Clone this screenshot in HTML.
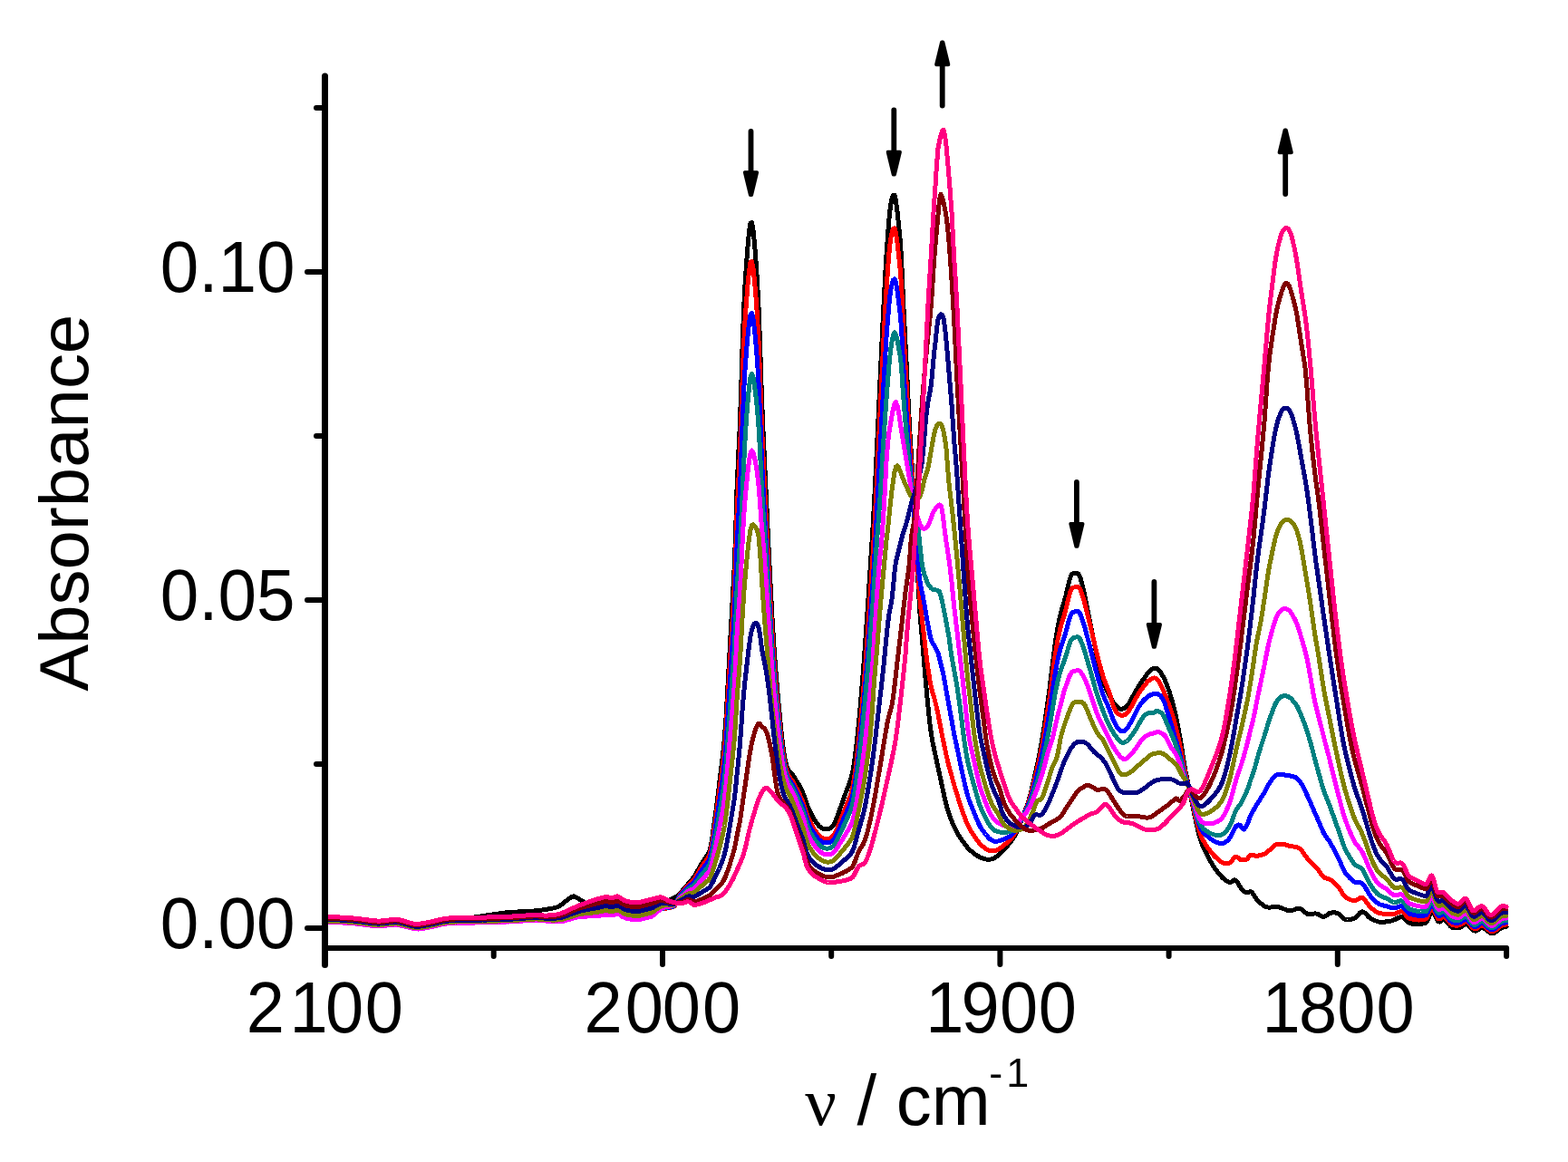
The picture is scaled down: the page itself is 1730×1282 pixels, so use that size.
<!DOCTYPE html>
<html><head><meta charset="utf-8"><title>IR spectra</title>
<style>
html,body{margin:0;padding:0;background:#fff;}
body{width:1730px;height:1282px;overflow:hidden;}
svg{display:block;}
text{font-family:"Liberation Sans",Arial,sans-serif;fill:#000;}
.c{fill:none;stroke-width:5;stroke-linejoin:round;stroke-linecap:round;}
.ax{stroke:#000;fill:none;stroke-linecap:round;}
</style></head><body>
<svg width="1730" height="1282" viewBox="0 0 1730 1282">
<rect width="1730" height="1282" fill="#fff"/>

<g shape-rendering="crispEdges"><path class="c" stroke="#000000" d="M358.5 1016.8 L360.0 1016.0 L361.5 1015.3 L363.0 1014.6 L364.5 1014.7 L366.0 1014.7 L367.5 1014.8 L369.0 1014.9 L370.5 1014.9 L372.0 1015.0 L373.5 1015.1 L375.0 1015.1 L376.5 1015.2 L378.0 1015.3 L379.5 1015.4 L381.0 1015.5 L382.5 1015.6 L384.0 1015.6 L385.5 1015.7 L387.0 1015.8 L388.5 1015.9 L390.0 1016.0 L391.5 1016.1 L393.0 1016.2 L394.5 1016.3 L396.0 1016.5 L397.5 1016.6 L399.0 1016.8 L400.5 1017.0 L402.0 1017.2 L403.5 1017.3 L405.0 1017.5 L406.5 1017.7 L408.0 1017.9 L409.5 1018.0 L411.0 1018.2 L412.5 1018.3 L414.0 1018.4 L415.5 1018.5 L417.0 1018.6 L418.5 1018.6 L420.0 1018.5 L421.5 1018.4 L423.0 1018.3 L424.5 1018.1 L426.0 1017.9 L427.5 1017.7 L429.0 1017.6 L430.5 1017.4 L432.0 1017.2 L433.5 1017.1 L435.0 1017.0 L436.5 1017.0 L438.0 1017.0 L439.5 1017.2 L441.0 1017.4 L442.5 1017.7 L444.0 1018.0 L445.5 1018.4 L447.0 1018.9 L448.5 1019.3 L450.0 1019.8 L451.5 1020.2 L453.0 1020.6 L454.5 1020.9 L456.0 1021.2 L457.5 1021.4 L459.0 1021.6 L460.5 1021.6 L462.0 1021.5 L463.5 1021.3 L465.0 1021.1 L466.5 1020.9 L468.0 1020.6 L469.5 1020.3 L471.0 1020.0 L472.5 1019.6 L474.0 1019.3 L475.5 1018.9 L477.0 1018.6 L478.5 1018.2 L480.0 1017.9 L481.5 1017.5 L483.0 1017.2 L484.5 1016.9 L486.0 1016.6 L487.5 1016.4 L489.0 1016.1 L490.5 1015.9 L492.0 1015.8 L493.5 1015.6 L495.0 1015.4 L496.5 1015.2 L498.0 1015.1 L499.5 1014.9 L501.0 1014.7 L502.5 1014.6 L504.0 1014.4 L505.5 1014.2 L507.0 1014.1 L508.5 1013.9 L510.0 1013.7 L511.5 1013.5 L513.0 1013.4 L514.5 1013.2 L516.0 1013.0 L517.5 1012.8 L519.0 1012.6 L520.5 1012.4 L522.0 1012.2 L523.5 1012.0 L525.0 1011.8 L526.5 1011.6 L528.0 1011.4 L529.5 1011.1 L531.0 1010.9 L532.5 1010.7 L534.0 1010.4 L535.5 1010.2 L537.0 1009.9 L538.5 1009.7 L540.0 1009.5 L541.5 1009.2 L543.0 1009.0 L544.5 1008.8 L546.0 1008.5 L547.5 1008.3 L549.0 1008.1 L550.5 1007.9 L552.0 1007.6 L553.5 1007.4 L555.0 1007.2 L556.5 1007.1 L558.0 1006.9 L559.5 1006.7 L561.0 1006.6 L562.5 1006.5 L564.0 1006.4 L565.5 1006.3 L567.0 1006.2 L568.5 1006.1 L570.0 1006.0 L571.5 1006.0 L573.0 1005.9 L574.5 1005.9 L576.0 1005.8 L577.5 1005.8 L579.0 1005.7 L580.5 1005.6 L582.0 1005.6 L583.5 1005.5 L585.0 1005.4 L586.5 1005.3 L588.0 1005.2 L589.5 1005.0 L591.0 1004.9 L592.5 1004.7 L594.0 1004.5 L595.5 1004.3 L597.0 1004.1 L598.5 1003.9 L600.0 1003.7 L601.5 1003.5 L603.0 1003.3 L604.5 1003.0 L606.0 1002.8 L607.5 1002.5 L609.0 1002.2 L610.5 1001.9 L612.0 1001.5 L613.5 1001.1 L615.0 1000.7 L616.5 1000.1 L618.0 999.1 L619.5 998.0 L621.0 996.7 L622.5 995.4 L624.0 994.2 L625.5 993.2 L627.0 992.2 L628.5 991.0 L630.0 990.0 L631.5 989.2 L633.0 988.9 L634.5 989.3 L636.0 990.2 L637.5 991.1 L639.0 992.0 L640.5 992.9 L642.0 993.8 L643.5 994.6 L645.0 995.6 L646.5 996.5 L648.0 997.4 L649.5 998.3 L651.0 998.9 L652.5 999.5 L654.0 999.9 L655.5 1000.2 L657.0 1000.3 L658.5 1000.4 L660.0 1000.5 L661.5 1000.5 L663.0 1000.4 L664.5 1000.4 L666.0 1000.4 L667.5 1000.4 L669.0 1000.4 L670.5 1000.5 L672.0 1000.7 L673.5 1000.8 L675.0 1000.9 L676.5 1001.1 L678.0 1001.2 L679.5 1001.3 L681.0 1001.5 L682.5 1001.6 L684.0 1001.7 L685.5 1001.8 L687.0 1002.0 L688.5 1002.1 L690.0 1002.2 L691.5 1002.3 L693.0 1002.5 L694.5 1002.6 L696.0 1002.7 L697.5 1002.8 L699.0 1002.9 L700.5 1003.0 L702.0 1003.1 L703.5 1003.2 L705.0 1003.2 L706.5 1003.2 L708.0 1003.1 L709.5 1003.1 L711.0 1002.9 L712.5 1002.8 L714.0 1002.6 L715.5 1002.4 L717.0 1002.1 L718.5 1001.8 L720.0 1001.5 L721.5 1001.1 L723.0 1000.6 L724.5 1000.2 L726.0 999.6 L727.5 999.1 L729.0 998.4 L730.5 997.7 L732.0 996.9 L733.5 996.1 L735.0 995.3 L736.5 994.5 L738.0 993.6 L739.5 992.7 L741.0 991.9 L742.5 991.0 L744.0 990.3 L745.5 989.5 L747.0 988.6 L748.5 987.5 L750.0 986.0 L751.5 984.3 L753.0 982.5 L754.5 980.8 L756.0 979.0 L757.5 977.2 L759.0 975.5 L760.5 973.7 L762.0 971.9 L763.5 970.1 L765.0 968.4 L766.5 966.4 L768.0 963.9 L769.5 961.1 L771.0 958.3 L772.5 955.5 L774.0 953.0 L775.5 950.7 L777.0 948.6 L778.5 946.4 L780.0 944.1 L781.5 941.6 L783.0 938.5 L784.5 932.1 L786.0 922.8 L787.5 912.2 L789.0 901.4 L790.5 890.2 L792.0 878.3 L793.5 865.9 L795.0 853.4 L796.5 841.5 L798.0 828.6 L799.5 812.7 L801.0 791.9 L802.5 765.5 L804.0 738.2 L805.5 710.9 L807.0 683.6 L808.5 656.4 L810.0 629.1 L811.5 591.5 L813.0 540.0 L814.5 506.8 L816.0 476.5 L817.5 436.5 L819.0 385.2 L820.5 343.1 L822.0 314.1 L823.5 291.5 L825.0 272.3 L826.5 256.1 L828.0 246.2 L829.5 245.5 L831.0 253.8 L832.5 268.6 L834.0 287.6 L835.5 310.0 L837.0 338.6 L838.5 377.6 L840.0 424.8 L841.5 464.4 L843.0 497.1 L844.5 529.4 L846.0 561.2 L847.5 592.8 L849.0 624.1 L850.5 654.0 L852.0 681.5 L853.5 706.3 L855.0 728.0 L856.5 747.2 L858.0 764.6 L859.5 781.1 L861.0 797.1 L862.5 811.9 L864.0 824.5 L865.5 834.2 L867.0 841.7 L868.5 846.9 L870.0 850.0 L871.5 851.8 L873.0 853.4 L874.5 855.0 L876.0 857.0 L877.5 859.4 L879.0 861.8 L880.5 864.3 L882.0 866.8 L883.5 869.6 L885.0 872.6 L886.5 876.2 L888.0 880.4 L889.5 884.8 L891.0 889.0 L892.5 892.7 L894.0 895.9 L895.5 898.9 L897.0 901.7 L898.5 904.2 L900.0 906.5 L901.5 908.7 L903.0 910.5 L904.5 912.1 L906.0 913.2 L907.5 914.0 L909.0 914.5 L910.5 914.7 L912.0 914.6 L913.5 914.4 L915.0 914.1 L916.5 913.4 L918.0 912.2 L919.5 910.4 L921.0 907.8 L922.5 904.2 L924.0 900.1 L925.5 895.9 L927.0 891.8 L928.5 887.6 L930.0 883.4 L931.5 879.2 L933.0 875.1 L934.5 871.0 L936.0 867.0 L937.5 863.0 L939.0 858.8 L940.5 852.7 L942.0 844.4 L943.5 833.9 L945.0 821.5 L946.5 807.5 L948.0 792.1 L949.5 775.4 L951.0 757.6 L952.5 738.6 L954.0 718.4 L955.5 697.1 L957.0 675.1 L958.5 652.5 L960.0 629.4 L961.5 605.9 L963.0 582.1 L964.5 555.8 L966.0 525.4 L967.5 493.9 L969.0 462.1 L970.5 430.3 L972.0 398.6 L973.5 367.1 L975.0 335.9 L976.5 307.1 L978.0 281.5 L979.5 259.9 L981.0 240.9 L982.5 226.8 L984.0 219.5 L985.5 215.4 L987.0 215.5 L988.5 221.8 L990.0 233.3 L991.5 248.0 L993.0 263.5 L994.5 283.3 L996.0 319.0 L997.5 350.6 L999.0 379.6 L1000.5 409.0 L1002.0 439.6 L1003.5 470.2 L1005.0 494.6 L1006.5 518.5 L1008.0 547.1 L1009.5 575.7 L1011.0 604.3 L1012.5 632.9 L1014.0 661.2 L1015.5 683.7 L1017.0 700.0 L1018.5 717.6 L1020.0 735.5 L1021.5 753.2 L1023.0 769.9 L1024.5 785.3 L1026.0 798.9 L1027.5 810.3 L1029.0 819.0 L1030.5 826.0 L1032.0 833.0 L1033.5 839.9 L1035.0 846.9 L1036.5 853.8 L1038.0 860.7 L1039.5 867.7 L1041.0 874.6 L1042.5 881.5 L1044.0 887.7 L1045.5 893.0 L1047.0 897.7 L1048.5 901.9 L1050.0 905.7 L1051.5 909.3 L1053.0 912.6 L1054.5 915.8 L1056.0 918.7 L1057.5 921.3 L1059.0 923.7 L1060.5 925.9 L1062.0 928.0 L1063.5 930.0 L1065.0 932.0 L1066.5 933.8 L1068.0 935.6 L1069.5 937.2 L1071.0 938.6 L1072.5 939.9 L1074.0 941.1 L1075.5 942.2 L1077.0 943.3 L1078.5 944.2 L1080.0 945.1 L1081.5 945.8 L1083.0 946.5 L1084.5 947.1 L1086.0 947.5 L1087.5 947.9 L1089.0 948.1 L1090.5 948.2 L1092.0 948.1 L1093.5 947.9 L1095.0 947.5 L1096.5 946.9 L1098.0 946.1 L1099.5 945.1 L1101.0 943.9 L1102.5 942.6 L1104.0 941.2 L1105.5 939.7 L1107.0 938.1 L1108.5 936.5 L1110.0 934.8 L1111.5 933.1 L1113.0 931.4 L1114.5 929.5 L1116.0 927.6 L1117.5 925.4 L1119.0 922.9 L1120.5 920.1 L1122.0 916.9 L1123.5 913.3 L1125.0 909.7 L1126.5 905.9 L1128.0 902.2 L1129.5 898.5 L1131.0 894.6 L1132.5 890.5 L1134.0 886.2 L1135.5 881.5 L1137.0 876.0 L1138.5 870.0 L1140.0 863.6 L1141.5 856.9 L1143.0 850.2 L1144.5 843.3 L1146.0 836.0 L1147.5 828.3 L1149.0 820.1 L1150.5 811.4 L1152.0 802.0 L1153.5 792.0 L1155.0 781.5 L1156.5 770.9 L1158.0 759.8 L1159.5 747.8 L1161.0 735.4 L1162.5 723.1 L1164.0 711.6 L1165.5 701.3 L1167.0 692.4 L1168.5 684.6 L1170.0 678.0 L1171.5 672.5 L1173.0 667.6 L1174.5 662.6 L1176.0 657.0 L1177.5 650.4 L1179.0 643.9 L1180.5 638.3 L1182.0 634.5 L1183.5 632.8 L1185.0 632.3 L1186.5 632.3 L1188.0 632.2 L1189.5 632.8 L1191.0 635.0 L1192.5 639.3 L1194.0 645.0 L1195.5 651.1 L1197.0 658.0 L1198.5 665.4 L1200.0 672.8 L1201.5 680.3 L1203.0 687.8 L1204.5 695.2 L1206.0 702.7 L1207.5 710.2 L1209.0 717.6 L1210.5 724.5 L1212.0 731.1 L1213.5 737.3 L1215.0 743.2 L1216.5 748.6 L1218.0 753.4 L1219.5 757.6 L1221.0 761.3 L1222.5 764.6 L1224.0 767.6 L1225.5 770.3 L1227.0 772.8 L1228.5 775.1 L1230.0 777.1 L1231.5 778.9 L1233.0 780.3 L1234.5 781.4 L1236.0 782.1 L1237.5 782.2 L1239.0 782.0 L1240.5 781.4 L1242.0 780.5 L1243.5 779.0 L1245.0 776.9 L1246.5 774.4 L1248.0 771.8 L1249.5 769.0 L1251.0 766.3 L1252.5 763.6 L1254.0 761.0 L1255.5 758.6 L1257.0 756.2 L1258.5 753.9 L1260.0 751.7 L1261.5 749.5 L1263.0 747.3 L1264.5 745.1 L1266.0 743.1 L1267.5 741.4 L1269.0 739.9 L1270.5 738.7 L1272.0 737.8 L1273.5 737.2 L1275.0 737.1 L1276.5 737.6 L1278.0 738.8 L1279.5 740.5 L1281.0 742.6 L1282.5 745.0 L1284.0 747.8 L1285.5 751.0 L1287.0 754.5 L1288.5 758.5 L1290.0 762.8 L1291.5 767.5 L1293.0 772.6 L1294.5 778.2 L1296.0 784.3 L1297.5 790.9 L1299.0 798.2 L1300.5 806.1 L1302.0 814.4 L1303.5 823.0 L1305.0 832.8 L1306.5 842.9 L1308.0 850.9 L1309.5 857.9 L1311.0 864.8 L1312.5 871.9 L1314.0 879.3 L1315.5 886.9 L1317.0 894.3 L1318.5 901.7 L1320.0 908.7 L1321.5 915.3 L1323.0 921.3 L1324.5 926.5 L1326.0 930.8 L1327.5 934.5 L1329.0 937.8 L1330.5 940.8 L1332.0 943.7 L1333.5 946.5 L1335.0 949.2 L1336.5 951.8 L1338.0 954.3 L1339.5 956.6 L1341.0 958.7 L1342.5 960.8 L1344.0 962.7 L1345.5 964.6 L1347.0 966.3 L1348.5 968.0 L1350.0 969.5 L1351.5 970.7 L1353.0 971.7 L1354.5 972.6 L1356.0 973.3 L1357.5 973.6 L1359.0 972.8 L1360.5 971.6 L1362.0 970.7 L1363.5 971.1 L1365.0 972.8 L1366.5 975.4 L1368.0 978.1 L1369.5 980.4 L1371.0 982.0 L1372.5 983.2 L1374.0 984.3 L1375.5 984.9 L1377.0 984.6 L1378.5 983.9 L1380.0 983.7 L1381.5 984.8 L1383.0 986.9 L1384.5 989.3 L1386.0 991.7 L1387.5 993.5 L1389.0 994.9 L1390.5 996.2 L1392.0 997.5 L1393.5 998.6 L1395.0 999.6 L1396.5 1000.3 L1398.0 1000.9 L1399.5 1001.1 L1401.0 1001.1 L1402.5 1000.9 L1404.0 1000.6 L1405.5 1000.3 L1407.0 1000.1 L1408.5 1000.2 L1410.0 1000.5 L1411.5 1000.9 L1413.0 1001.4 L1414.5 1002.0 L1416.0 1002.6 L1417.5 1003.2 L1419.0 1003.8 L1420.5 1004.3 L1422.0 1004.6 L1423.5 1004.8 L1425.0 1004.6 L1426.5 1004.2 L1428.0 1003.7 L1429.5 1003.1 L1431.0 1002.6 L1432.5 1002.4 L1434.0 1002.4 L1435.5 1002.8 L1437.0 1003.9 L1438.5 1005.3 L1440.0 1006.7 L1441.5 1007.8 L1443.0 1008.5 L1444.5 1008.7 L1446.0 1008.6 L1447.5 1008.4 L1449.0 1008.1 L1450.5 1007.9 L1452.0 1008.0 L1453.5 1008.3 L1455.0 1009.0 L1456.5 1009.9 L1458.0 1010.7 L1459.5 1011.3 L1461.0 1011.3 L1462.5 1010.7 L1464.0 1009.6 L1465.5 1008.4 L1467.0 1007.5 L1468.5 1007.2 L1470.0 1006.9 L1471.5 1006.9 L1473.0 1006.9 L1474.5 1007.2 L1476.0 1007.6 L1477.5 1008.2 L1479.0 1009.7 L1480.5 1011.4 L1482.0 1013.1 L1483.5 1014.2 L1485.0 1014.6 L1486.5 1014.7 L1488.0 1014.7 L1489.5 1014.5 L1491.0 1014.1 L1492.5 1013.7 L1494.0 1013.1 L1495.5 1012.4 L1497.0 1011.1 L1498.5 1009.3 L1500.0 1007.5 L1501.5 1006.2 L1503.0 1005.7 L1504.5 1006.2 L1506.0 1007.4 L1507.5 1008.9 L1509.0 1010.5 L1510.5 1012.0 L1512.0 1013.2 L1513.5 1013.9 L1515.0 1014.7 L1516.5 1015.4 L1518.0 1016.0 L1519.5 1016.6 L1521.0 1017.0 L1522.5 1017.2 L1524.0 1017.3 L1525.5 1017.3 L1527.0 1017.2 L1528.5 1017.0 L1530.0 1016.8 L1531.5 1016.6 L1533.0 1016.4 L1534.5 1016.1 L1536.0 1015.8 L1537.5 1015.2 L1539.0 1014.5 L1540.5 1013.7 L1542.0 1013.0 L1543.5 1012.3 L1545.0 1011.9 L1546.5 1011.7 L1548.0 1012.2 L1549.5 1013.4 L1551.0 1014.9 L1552.5 1016.5 L1554.0 1017.8 L1555.5 1018.5 L1557.0 1018.9 L1558.5 1019.2 L1560.0 1019.4 L1561.5 1019.6 L1563.0 1019.7 L1564.5 1019.8 L1566.0 1019.7 L1567.5 1019.5 L1569.0 1019.3 L1570.5 1018.9 L1572.0 1018.6 L1573.5 1017.8 L1575.0 1015.4 L1576.5 1011.9 L1578.0 1008.6 L1579.5 1006.3 L1581.0 1006.3 L1582.5 1008.3 L1584.0 1011.5 L1585.5 1014.8 L1587.0 1016.9 L1588.5 1017.1 L1590.0 1016.3 L1591.5 1015.1 L1593.0 1014.5 L1594.5 1015.1 L1596.0 1016.5 L1597.5 1018.3 L1599.0 1020.3 L1600.5 1022.0 L1602.0 1023.2 L1603.5 1023.6 L1605.0 1023.8 L1606.5 1023.8 L1608.0 1023.7 L1609.5 1023.5 L1611.0 1023.1 L1612.5 1022.3 L1614.0 1021.4 L1615.5 1020.5 L1617.0 1019.8 L1618.5 1019.8 L1620.0 1020.6 L1621.5 1022.0 L1623.0 1023.7 L1624.5 1025.3 L1626.0 1026.6 L1627.5 1027.2 L1629.0 1026.9 L1630.5 1026.0 L1632.0 1024.8 L1633.5 1023.8 L1635.0 1023.4 L1636.5 1023.7 L1638.0 1024.5 L1639.5 1025.5 L1641.0 1026.8 L1642.5 1028.0 L1644.0 1029.0 L1645.5 1029.7 L1647.0 1029.8 L1648.5 1029.4 L1650.0 1028.5 L1651.5 1027.4 L1653.0 1026.3 L1654.5 1025.1 L1656.0 1024.1 L1657.5 1023.4 L1659.0 1023.0 L1660.5 1022.5 L1662.0 1022.3"/>
<path class="c" stroke="#ff0000" d="M358.5 1017.0 L360.0 1017.0 L361.5 1017.1 L363.0 1017.1 L364.5 1017.2 L366.0 1017.2 L367.5 1017.2 L369.0 1017.3 L370.5 1017.3 L372.0 1017.4 L373.5 1017.4 L375.0 1017.5 L376.5 1017.6 L378.0 1017.7 L379.5 1017.8 L381.0 1017.9 L382.5 1018.0 L384.0 1018.1 L385.5 1018.2 L387.0 1018.3 L388.5 1018.4 L390.0 1018.5 L391.5 1018.7 L393.0 1018.8 L394.5 1019.0 L396.0 1019.2 L397.5 1019.3 L399.0 1019.5 L400.5 1019.7 L402.0 1019.9 L403.5 1020.1 L405.0 1020.3 L406.5 1020.5 L408.0 1020.7 L409.5 1020.9 L411.0 1021.0 L412.5 1021.2 L414.0 1021.4 L415.5 1021.4 L417.0 1021.5 L418.5 1021.4 L420.0 1021.3 L421.5 1021.2 L423.0 1021.1 L424.5 1020.9 L426.0 1020.8 L427.5 1020.6 L429.0 1020.5 L430.5 1020.3 L432.0 1020.2 L433.5 1020.1 L435.0 1020.0 L436.5 1019.9 L438.0 1020.0 L439.5 1020.2 L441.0 1020.5 L442.5 1020.8 L444.0 1021.2 L445.5 1021.5 L447.0 1021.9 L448.5 1022.3 L450.0 1022.7 L451.5 1023.0 L453.0 1023.4 L454.5 1023.7 L456.0 1024.0 L457.5 1024.3 L459.0 1024.5 L460.5 1024.7 L462.0 1024.7 L463.5 1024.5 L465.0 1024.3 L466.5 1024.1 L468.0 1023.8 L469.5 1023.6 L471.0 1023.3 L472.5 1023.0 L474.0 1022.7 L475.5 1022.4 L477.0 1022.0 L478.5 1021.7 L480.0 1021.3 L481.5 1021.0 L483.0 1020.6 L484.5 1020.3 L486.0 1019.9 L487.5 1019.6 L489.0 1019.3 L490.5 1019.0 L492.0 1018.8 L493.5 1018.7 L495.0 1018.6 L496.5 1018.5 L498.0 1018.3 L499.5 1018.2 L501.0 1018.1 L502.5 1018.0 L504.0 1018.0 L505.5 1017.9 L507.0 1017.9 L508.5 1017.8 L510.0 1017.8 L511.5 1017.8 L513.0 1017.8 L514.5 1017.8 L516.0 1017.7 L517.5 1017.7 L519.0 1017.7 L520.5 1017.7 L522.0 1017.7 L523.5 1017.7 L525.0 1017.6 L526.5 1017.6 L528.0 1017.6 L529.5 1017.6 L531.0 1017.6 L532.5 1017.5 L534.0 1017.5 L535.5 1017.5 L537.0 1017.5 L538.5 1017.4 L540.0 1017.4 L541.5 1017.3 L543.0 1017.3 L544.5 1017.2 L546.0 1017.2 L547.5 1017.1 L549.0 1017.1 L550.5 1017.0 L552.0 1017.0 L553.5 1016.9 L555.0 1016.9 L556.5 1016.8 L558.0 1016.8 L559.5 1016.7 L561.0 1016.7 L562.5 1016.6 L564.0 1016.5 L565.5 1016.5 L567.0 1016.4 L568.5 1016.3 L570.0 1016.2 L571.5 1016.1 L573.0 1016.0 L574.5 1015.9 L576.0 1015.8 L577.5 1015.7 L579.0 1015.6 L580.5 1015.5 L582.0 1015.4 L583.5 1015.3 L585.0 1015.2 L586.5 1015.1 L588.0 1015.0 L589.5 1015.0 L591.0 1015.0 L592.5 1015.0 L594.0 1015.1 L595.5 1015.2 L597.0 1015.3 L598.5 1015.4 L600.0 1015.6 L601.5 1015.7 L603.0 1015.8 L604.5 1015.9 L606.0 1016.0 L607.5 1016.1 L609.0 1016.2 L610.5 1016.3 L612.0 1016.3 L613.5 1016.4 L615.0 1016.4 L616.5 1016.3 L618.0 1016.3 L619.5 1016.1 L621.0 1015.8 L622.5 1015.5 L624.0 1015.1 L625.5 1014.6 L627.0 1014.2 L628.5 1013.8 L630.0 1013.3 L631.5 1012.9 L633.0 1012.4 L634.5 1012.0 L636.0 1011.6 L637.5 1011.1 L639.0 1010.8 L640.5 1010.7 L642.0 1010.6 L643.5 1010.5 L645.0 1010.4 L646.5 1010.3 L648.0 1010.2 L649.5 1010.1 L651.0 1010.0 L652.5 1009.9 L654.0 1009.9 L655.5 1010.0 L657.0 1010.0 L658.5 1009.8 L660.0 1009.5 L661.5 1009.2 L663.0 1008.9 L664.5 1008.6 L666.0 1008.4 L667.5 1008.1 L669.0 1008.0 L670.5 1008.1 L672.0 1008.4 L673.5 1008.7 L675.0 1008.9 L676.5 1008.8 L678.0 1008.3 L679.5 1007.6 L681.0 1007.3 L682.5 1007.5 L684.0 1008.3 L685.5 1009.4 L687.0 1010.5 L688.5 1011.2 L690.0 1011.8 L691.5 1012.2 L693.0 1012.6 L694.5 1012.8 L696.0 1013.1 L697.5 1013.3 L699.0 1013.5 L700.5 1013.6 L702.0 1013.7 L703.5 1013.8 L705.0 1013.7 L706.5 1013.3 L708.0 1013.0 L709.5 1012.6 L711.0 1012.2 L712.5 1011.9 L714.0 1011.5 L715.5 1011.1 L717.0 1010.8 L718.5 1010.4 L720.0 1009.5 L721.5 1008.4 L723.0 1007.1 L724.5 1005.9 L726.0 1004.7 L727.5 1003.6 L729.0 1002.7 L730.5 1002.3 L732.0 1002.2 L733.5 1002.1 L735.0 1002.1 L736.5 1002.0 L738.0 1001.8 L739.5 1001.5 L741.0 1001.0 L742.5 1000.4 L744.0 999.7 L745.5 997.7 L747.0 994.1 L748.5 990.2 L750.0 987.2 L751.5 985.5 L753.0 983.9 L754.5 982.2 L756.0 980.5 L757.5 978.9 L759.0 977.2 L760.5 975.6 L762.0 974.1 L763.5 972.5 L765.0 970.9 L766.5 969.1 L768.0 966.8 L769.5 964.2 L771.0 961.5 L772.5 958.9 L774.0 956.5 L775.5 954.3 L777.0 952.2 L778.5 950.1 L780.0 948.0 L781.5 945.6 L783.0 942.6 L784.5 936.6 L786.0 927.9 L787.5 917.9 L789.0 907.9 L790.5 897.4 L792.0 886.3 L793.5 874.6 L795.0 862.9 L796.5 851.7 L798.0 839.5 L799.5 824.5 L801.0 805.0 L802.5 780.1 L804.0 754.4 L805.5 728.7 L807.0 703.0 L808.5 677.3 L810.0 651.6 L811.5 616.2 L813.0 567.8 L814.5 536.4 L816.0 507.9 L817.5 470.1 L819.0 421.8 L820.5 382.2 L822.0 354.7 L823.5 333.1 L825.0 314.6 L826.5 299.1 L828.0 289.4 L829.5 288.4 L831.0 296.0 L832.5 309.8 L834.0 327.6 L835.5 348.7 L837.0 375.6 L838.5 412.3 L840.0 456.7 L841.5 493.9 L843.0 524.7 L844.5 555.2 L846.0 585.2 L847.5 615.0 L849.0 644.5 L850.5 672.6 L852.0 698.4 L853.5 721.7 L855.0 742.0 L856.5 760.0 L858.0 776.2 L859.5 791.5 L861.0 806.3 L862.5 819.9 L864.0 831.5 L865.5 840.5 L867.0 847.4 L868.5 852.5 L870.0 855.5 L871.5 857.6 L873.0 859.7 L874.5 861.8 L876.0 864.3 L877.5 867.2 L879.0 870.0 L880.5 872.9 L882.0 876.0 L883.5 879.2 L885.0 882.6 L886.5 886.5 L888.0 891.2 L889.5 896.0 L891.0 900.2 L892.5 903.9 L894.0 907.1 L895.5 910.1 L897.0 912.7 L898.5 915.1 L900.0 917.3 L901.5 919.3 L903.0 921.1 L904.5 922.5 L906.0 923.7 L907.5 924.5 L909.0 925.1 L910.5 925.4 L912.0 925.5 L913.5 925.4 L915.0 925.1 L916.5 924.5 L918.0 923.5 L919.5 922.0 L921.0 919.7 L922.5 916.6 L924.0 913.1 L925.5 909.5 L927.0 905.8 L928.5 902.1 L930.0 898.4 L931.5 894.6 L933.0 890.8 L934.5 887.1 L936.0 883.3 L937.5 879.4 L939.0 875.4 L940.5 869.7 L942.0 861.8 L943.5 851.9 L945.0 840.3 L946.5 827.3 L948.0 813.0 L949.5 797.7 L951.0 781.3 L952.5 763.6 L954.0 744.8 L955.5 724.6 L957.0 703.6 L958.5 681.9 L960.0 659.6 L961.5 636.8 L963.0 613.5 L964.5 587.8 L966.0 558.3 L967.5 527.7 L969.0 496.7 L970.5 465.7 L972.0 434.5 L973.5 403.6 L975.0 373.0 L976.5 344.6 L978.0 319.3 L979.5 297.8 L981.0 278.8 L982.5 264.4 L984.0 256.8 L985.5 252.2 L987.0 251.8 L988.5 257.3 L990.0 267.8 L991.5 281.2 L993.0 295.4 L994.5 313.8 L996.0 346.9 L997.5 376.2 L999.0 402.8 L1000.5 429.2 L1002.0 456.9 L1003.5 484.6 L1005.0 506.5 L1006.5 527.6 L1008.0 552.7 L1009.5 577.2 L1011.0 601.8 L1012.5 626.4 L1014.0 649.9 L1015.5 667.6 L1017.0 680.0 L1018.5 693.0 L1020.0 706.1 L1021.5 718.9 L1023.0 730.8 L1024.5 741.4 L1026.0 751.0 L1027.5 758.7 L1029.0 764.3 L1030.5 769.1 L1032.0 774.9 L1033.5 781.0 L1035.0 787.9 L1036.5 795.9 L1038.0 803.7 L1039.5 811.3 L1041.0 818.6 L1042.5 825.8 L1044.0 832.8 L1045.5 839.2 L1047.0 845.2 L1048.5 850.8 L1050.0 856.1 L1051.5 861.8 L1053.0 867.1 L1054.5 871.9 L1056.0 876.8 L1057.5 881.7 L1059.0 886.4 L1060.5 890.8 L1062.0 895.2 L1063.5 899.5 L1065.0 903.6 L1066.5 907.4 L1068.0 910.8 L1069.5 913.7 L1071.0 916.3 L1072.5 918.7 L1074.0 921.1 L1075.5 923.3 L1077.0 925.5 L1078.5 927.6 L1080.0 929.6 L1081.5 931.3 L1083.0 932.7 L1084.5 934.0 L1086.0 935.2 L1087.5 936.2 L1089.0 937.2 L1090.5 937.9 L1092.0 938.5 L1093.5 938.9 L1095.0 939.0 L1096.5 938.9 L1098.0 938.5 L1099.5 938.0 L1101.0 937.2 L1102.5 936.3 L1104.0 935.3 L1105.5 934.2 L1107.0 933.1 L1108.5 931.9 L1110.0 930.6 L1111.5 929.3 L1113.0 928.0 L1114.5 926.5 L1116.0 924.8 L1117.5 922.9 L1119.0 920.7 L1120.5 918.2 L1122.0 915.3 L1123.5 912.2 L1125.0 908.9 L1126.5 905.5 L1128.0 902.2 L1129.5 898.8 L1131.0 895.2 L1132.5 891.5 L1134.0 887.5 L1135.5 883.2 L1137.0 878.2 L1138.5 872.6 L1140.0 866.6 L1141.5 860.5 L1143.0 854.3 L1144.5 847.8 L1146.0 841.1 L1147.5 833.9 L1149.0 826.4 L1150.5 818.2 L1152.0 809.4 L1153.5 800.1 L1155.0 790.3 L1156.5 780.4 L1158.0 770.0 L1159.5 758.7 L1161.0 747.0 L1162.5 735.4 L1164.0 724.5 L1165.5 714.9 L1167.0 706.3 L1168.5 699.0 L1170.0 692.6 L1171.5 687.3 L1173.0 682.5 L1174.5 677.7 L1176.0 672.3 L1177.5 665.9 L1179.0 659.6 L1180.5 654.2 L1182.0 650.4 L1183.5 648.6 L1185.0 648.0 L1186.5 647.7 L1188.0 647.3 L1189.5 647.3 L1191.0 648.6 L1192.5 651.8 L1194.0 656.2 L1195.5 661.0 L1197.0 666.4 L1198.5 672.4 L1200.0 678.4 L1201.5 684.5 L1203.0 690.6 L1204.5 696.9 L1206.0 703.2 L1207.5 709.7 L1209.0 716.1 L1210.5 722.3 L1212.0 728.2 L1213.5 733.9 L1215.0 739.4 L1216.5 744.5 L1218.0 749.2 L1219.5 753.2 L1221.0 756.9 L1222.5 760.2 L1224.0 764.3 L1225.5 769.5 L1227.0 774.9 L1228.5 779.6 L1230.0 782.8 L1231.5 785.0 L1233.0 786.8 L1234.5 788.1 L1236.0 789.0 L1237.5 789.3 L1239.0 789.2 L1240.5 788.8 L1242.0 788.0 L1243.5 786.7 L1245.0 784.8 L1246.5 782.5 L1248.0 780.0 L1249.5 777.3 L1251.0 774.5 L1252.5 771.7 L1254.0 768.9 L1255.5 766.4 L1257.0 764.1 L1258.5 762.0 L1260.0 759.9 L1261.5 757.9 L1263.0 756.0 L1264.5 754.1 L1266.0 752.4 L1267.5 750.9 L1269.0 749.8 L1270.5 748.9 L1272.0 748.3 L1273.5 747.9 L1275.0 748.2 L1276.5 749.3 L1278.0 751.1 L1279.5 753.6 L1281.0 756.4 L1282.5 759.5 L1284.0 762.9 L1285.5 766.5 L1287.0 770.3 L1288.5 774.3 L1290.0 778.5 L1291.5 782.7 L1293.0 787.1 L1294.5 791.8 L1296.0 797.0 L1297.5 802.8 L1299.0 809.1 L1300.5 815.8 L1302.0 823.0 L1303.5 830.4 L1305.0 838.9 L1306.5 847.5 L1308.0 854.1 L1309.5 859.9 L1311.0 865.7 L1312.5 871.8 L1314.0 878.4 L1315.5 885.1 L1317.0 891.8 L1318.5 898.5 L1320.0 904.8 L1321.5 910.7 L1323.0 916.0 L1324.5 920.5 L1326.0 924.1 L1327.5 927.2 L1329.0 929.7 L1330.5 932.1 L1332.0 934.3 L1333.5 936.4 L1335.0 938.5 L1336.5 940.4 L1338.0 942.3 L1339.5 944.0 L1341.0 945.5 L1342.5 946.9 L1344.0 948.3 L1345.5 949.5 L1347.0 950.6 L1348.5 951.5 L1350.0 952.3 L1351.5 952.7 L1353.0 952.8 L1354.5 952.7 L1356.0 952.4 L1357.5 951.7 L1359.0 950.0 L1360.5 947.9 L1362.0 946.1 L1363.5 945.2 L1365.0 945.6 L1366.5 946.7 L1368.0 947.9 L1369.5 948.8 L1371.0 949.0 L1372.5 948.9 L1374.0 948.7 L1375.5 948.1 L1377.0 946.6 L1378.5 944.8 L1380.0 943.4 L1381.5 943.2 L1383.0 943.6 L1384.5 944.0 L1386.0 944.3 L1387.5 944.2 L1389.0 943.9 L1390.5 943.6 L1392.0 943.3 L1393.5 942.8 L1395.0 942.2 L1396.5 941.3 L1398.0 940.2 L1399.5 938.9 L1401.0 937.6 L1402.5 936.3 L1404.0 934.9 L1405.5 933.5 L1407.0 932.4 L1408.5 931.6 L1410.0 931.2 L1411.5 931.0 L1413.0 931.0 L1414.5 931.1 L1416.0 931.4 L1417.5 931.8 L1419.0 932.2 L1420.5 932.7 L1422.0 933.1 L1423.5 933.5 L1425.0 933.8 L1426.5 934.0 L1428.0 934.1 L1429.5 934.3 L1431.0 934.7 L1432.5 935.3 L1434.0 936.3 L1435.5 937.7 L1437.0 939.5 L1438.5 941.7 L1440.0 943.8 L1441.5 945.9 L1443.0 947.8 L1444.5 949.4 L1446.0 950.8 L1447.5 952.3 L1449.0 953.8 L1450.5 955.4 L1452.0 956.9 L1453.5 958.6 L1455.0 960.6 L1456.5 962.7 L1458.0 964.8 L1459.5 966.6 L1461.0 968.0 L1462.5 968.8 L1464.0 969.1 L1465.5 969.4 L1467.0 970.0 L1468.5 971.0 L1470.0 972.2 L1471.5 973.4 L1473.0 974.7 L1474.5 976.2 L1476.0 977.7 L1477.5 979.5 L1479.0 981.9 L1480.5 984.5 L1482.0 987.0 L1483.5 988.9 L1485.0 990.1 L1486.5 991.1 L1488.0 991.9 L1489.5 992.5 L1491.0 993.0 L1492.5 993.3 L1494.0 993.6 L1495.5 993.6 L1497.0 993.0 L1498.5 992.0 L1500.0 991.0 L1501.5 990.4 L1503.0 990.5 L1504.5 991.6 L1506.0 993.3 L1507.5 995.3 L1509.0 997.3 L1510.5 999.3 L1512.0 1001.0 L1513.5 1002.3 L1515.0 1003.5 L1516.5 1004.6 L1518.0 1005.6 L1519.5 1006.5 L1521.0 1007.2 L1522.5 1007.6 L1524.0 1007.9 L1525.5 1008.1 L1527.0 1008.2 L1528.5 1008.3 L1530.0 1008.4 L1531.5 1008.5 L1533.0 1008.6 L1534.5 1008.8 L1536.0 1008.8 L1537.5 1008.6 L1539.0 1008.2 L1540.5 1007.6 L1542.0 1006.9 L1543.5 1006.3 L1545.0 1005.9 L1546.5 1005.8 L1548.0 1006.4 L1549.5 1007.7 L1551.0 1009.4 L1552.5 1011.2 L1554.0 1012.6 L1555.5 1013.4 L1557.0 1013.8 L1558.5 1014.1 L1560.0 1014.4 L1561.5 1014.7 L1563.0 1014.9 L1564.5 1015.0 L1566.0 1015.0 L1567.5 1014.9 L1569.0 1014.8 L1570.5 1014.5 L1572.0 1014.3 L1573.5 1013.7 L1575.0 1011.2 L1576.5 1007.8 L1578.0 1004.4 L1579.5 1002.3 L1581.0 1002.4 L1582.5 1004.8 L1584.0 1008.3 L1585.5 1011.6 L1587.0 1013.7 L1588.5 1013.9 L1590.0 1013.1 L1591.5 1012.0 L1593.0 1011.6 L1594.5 1012.2 L1596.0 1013.7 L1597.5 1015.5 L1599.0 1017.4 L1600.5 1019.1 L1602.0 1020.2 L1603.5 1020.7 L1605.0 1021.0 L1606.5 1021.1 L1608.0 1021.1 L1609.5 1020.9 L1611.0 1020.4 L1612.5 1019.5 L1614.0 1018.5 L1615.5 1017.6 L1617.0 1016.9 L1618.5 1017.0 L1620.0 1018.0 L1621.5 1019.6 L1623.0 1021.5 L1624.5 1023.2 L1626.0 1024.4 L1627.5 1024.9 L1629.0 1024.5 L1630.5 1023.6 L1632.0 1022.4 L1633.5 1021.4 L1635.0 1021.0 L1636.5 1021.4 L1638.0 1022.2 L1639.5 1023.4 L1641.0 1024.7 L1642.5 1026.0 L1644.0 1027.1 L1645.5 1027.7 L1647.0 1027.7 L1648.5 1027.2 L1650.0 1026.3 L1651.5 1025.2 L1653.0 1023.9 L1654.5 1022.8 L1656.0 1021.8 L1657.5 1021.1 L1659.0 1020.6 L1660.5 1020.3 L1662.0 1020.1"/>
<path class="c" stroke="#0000ff" d="M358.5 1017.2 L360.0 1017.2 L361.5 1017.3 L363.0 1017.3 L364.5 1017.4 L366.0 1017.4 L367.5 1017.4 L369.0 1017.5 L370.5 1017.5 L372.0 1017.6 L373.5 1017.6 L375.0 1017.7 L376.5 1017.8 L378.0 1017.9 L379.5 1018.0 L381.0 1018.1 L382.5 1018.2 L384.0 1018.3 L385.5 1018.4 L387.0 1018.5 L388.5 1018.6 L390.0 1018.7 L391.5 1018.9 L393.0 1019.0 L394.5 1019.2 L396.0 1019.4 L397.5 1019.6 L399.0 1019.7 L400.5 1019.9 L402.0 1020.1 L403.5 1020.3 L405.0 1020.5 L406.5 1020.7 L408.0 1020.9 L409.5 1021.1 L411.0 1021.2 L412.5 1021.4 L414.0 1021.6 L415.5 1021.6 L417.0 1021.7 L418.5 1021.6 L420.0 1021.5 L421.5 1021.4 L423.0 1021.3 L424.5 1021.1 L426.0 1021.0 L427.5 1020.8 L429.0 1020.7 L430.5 1020.5 L432.0 1020.4 L433.5 1020.3 L435.0 1020.2 L436.5 1020.1 L438.0 1020.2 L439.5 1020.4 L441.0 1020.7 L442.5 1021.1 L444.0 1021.4 L445.5 1021.7 L447.0 1022.1 L448.5 1022.5 L450.0 1022.9 L451.5 1023.2 L453.0 1023.6 L454.5 1023.9 L456.0 1024.2 L457.5 1024.5 L459.0 1024.7 L460.5 1024.9 L462.0 1024.9 L463.5 1024.7 L465.0 1024.5 L466.5 1024.3 L468.0 1024.0 L469.5 1023.7 L471.0 1023.5 L472.5 1023.2 L474.0 1022.9 L475.5 1022.6 L477.0 1022.2 L478.5 1021.9 L480.0 1021.5 L481.5 1021.2 L483.0 1020.8 L484.5 1020.5 L486.0 1020.1 L487.5 1019.8 L489.0 1019.5 L490.5 1019.2 L492.0 1019.0 L493.5 1018.9 L495.0 1018.8 L496.5 1018.7 L498.0 1018.5 L499.5 1018.4 L501.0 1018.3 L502.5 1018.2 L504.0 1018.2 L505.5 1018.1 L507.0 1018.1 L508.5 1018.0 L510.0 1018.0 L511.5 1018.0 L513.0 1018.0 L514.5 1018.0 L516.0 1017.9 L517.5 1017.9 L519.0 1017.9 L520.5 1017.9 L522.0 1017.9 L523.5 1017.9 L525.0 1017.8 L526.5 1017.8 L528.0 1017.8 L529.5 1017.8 L531.0 1017.8 L532.5 1017.7 L534.0 1017.7 L535.5 1017.7 L537.0 1017.7 L538.5 1017.6 L540.0 1017.6 L541.5 1017.5 L543.0 1017.5 L544.5 1017.4 L546.0 1017.4 L547.5 1017.3 L549.0 1017.3 L550.5 1017.2 L552.0 1017.2 L553.5 1017.1 L555.0 1017.1 L556.5 1017.0 L558.0 1017.0 L559.5 1016.9 L561.0 1016.9 L562.5 1016.8 L564.0 1016.7 L565.5 1016.7 L567.0 1016.6 L568.5 1016.5 L570.0 1016.4 L571.5 1016.3 L573.0 1016.2 L574.5 1016.1 L576.0 1016.0 L577.5 1015.9 L579.0 1015.8 L580.5 1015.7 L582.0 1015.6 L583.5 1015.5 L585.0 1015.4 L586.5 1015.3 L588.0 1015.2 L589.5 1015.2 L591.0 1015.2 L592.5 1015.2 L594.0 1015.3 L595.5 1015.4 L597.0 1015.5 L598.5 1015.6 L600.0 1015.8 L601.5 1015.9 L603.0 1016.0 L604.5 1016.1 L606.0 1016.2 L607.5 1016.4 L609.0 1016.5 L610.5 1016.5 L612.0 1016.6 L613.5 1016.6 L615.0 1016.6 L616.5 1016.6 L618.0 1016.6 L619.5 1016.4 L621.0 1016.2 L622.5 1015.8 L624.0 1015.4 L625.5 1015.0 L627.0 1014.6 L628.5 1014.1 L630.0 1013.7 L631.5 1013.3 L633.0 1012.8 L634.5 1012.4 L636.0 1012.0 L637.5 1011.6 L639.0 1011.3 L640.5 1011.1 L642.0 1011.0 L643.5 1011.0 L645.0 1010.9 L646.5 1010.8 L648.0 1010.7 L649.5 1010.6 L651.0 1010.6 L652.5 1010.5 L654.0 1010.5 L655.5 1010.6 L657.0 1010.6 L658.5 1010.4 L660.0 1010.1 L661.5 1009.9 L663.0 1009.6 L664.5 1009.3 L666.0 1009.1 L667.5 1008.8 L669.0 1008.7 L670.5 1008.7 L672.0 1009.0 L673.5 1009.3 L675.0 1009.6 L676.5 1009.5 L678.0 1008.9 L679.5 1008.3 L681.0 1007.9 L682.5 1008.2 L684.0 1009.0 L685.5 1010.1 L687.0 1011.1 L688.5 1011.9 L690.0 1012.5 L691.5 1012.9 L693.0 1013.2 L694.5 1013.5 L696.0 1013.7 L697.5 1013.9 L699.0 1014.1 L700.5 1014.2 L702.0 1014.4 L703.5 1014.4 L705.0 1014.3 L706.5 1014.0 L708.0 1013.6 L709.5 1013.3 L711.0 1012.9 L712.5 1012.5 L714.0 1012.2 L715.5 1011.8 L717.0 1011.4 L718.5 1011.0 L720.0 1010.2 L721.5 1009.0 L723.0 1007.7 L724.5 1006.4 L726.0 1005.2 L727.5 1004.0 L729.0 1003.0 L730.5 1002.4 L732.0 1002.1 L733.5 1001.9 L735.0 1001.8 L736.5 1001.6 L738.0 1001.3 L739.5 1000.9 L741.0 1000.5 L742.5 1000.0 L744.0 999.3 L745.5 997.5 L747.0 994.3 L748.5 990.9 L750.0 988.3 L751.5 986.8 L753.0 985.3 L754.5 983.7 L756.0 982.2 L757.5 980.6 L759.0 979.1 L760.5 977.7 L762.0 976.4 L763.5 975.1 L765.0 973.8 L766.5 972.2 L768.0 970.0 L769.5 967.7 L771.0 965.2 L772.5 962.8 L774.0 960.6 L775.5 958.5 L777.0 956.6 L778.5 954.6 L780.0 952.6 L781.5 950.3 L783.0 947.6 L784.5 942.0 L786.0 934.1 L787.5 925.1 L789.0 915.9 L790.5 906.3 L792.0 896.2 L793.5 885.6 L795.0 874.9 L796.5 864.7 L798.0 853.5 L799.5 839.7 L801.0 821.8 L802.5 799.0 L804.0 775.5 L805.5 752.0 L807.0 728.4 L808.5 704.7 L810.0 681.0 L811.5 648.6 L813.0 604.3 L814.5 575.5 L816.0 549.3 L817.5 514.6 L819.0 470.4 L820.5 434.0 L822.0 408.5 L823.5 388.3 L825.0 370.9 L826.5 356.2 L828.0 346.9 L829.5 345.5 L831.0 351.8 L832.5 363.9 L834.0 379.6 L835.5 398.3 L837.0 422.3 L838.5 455.3 L840.0 495.2 L841.5 528.8 L843.0 556.6 L844.5 584.1 L846.0 611.4 L847.5 638.5 L849.0 665.5 L850.5 691.1 L852.0 714.7 L853.5 736.0 L855.0 754.7 L856.5 771.2 L858.0 786.1 L859.5 800.1 L861.0 813.7 L862.5 826.1 L864.0 836.8 L865.5 845.1 L867.0 851.5 L868.5 856.2 L870.0 859.2 L871.5 861.4 L873.0 863.6 L874.5 865.9 L876.0 868.6 L877.5 871.6 L879.0 874.6 L880.5 877.7 L882.0 880.9 L883.5 884.2 L885.0 887.6 L886.5 891.6 L888.0 896.5 L889.5 901.4 L891.0 905.5 L892.5 909.1 L894.0 912.2 L895.5 915.1 L897.0 917.6 L898.5 919.9 L900.0 922.0 L901.5 923.9 L903.0 925.6 L904.5 927.0 L906.0 928.1 L907.5 928.9 L909.0 929.5 L910.5 929.8 L912.0 930.0 L913.5 929.9 L915.0 929.7 L916.5 929.1 L918.0 928.2 L919.5 926.8 L921.0 924.7 L922.5 921.9 L924.0 918.7 L925.5 915.4 L927.0 912.1 L928.5 908.7 L930.0 905.3 L931.5 901.8 L933.0 898.4 L934.5 895.0 L936.0 891.5 L937.5 888.0 L939.0 884.3 L940.5 879.0 L942.0 871.7 L943.5 862.5 L945.0 851.8 L946.5 839.7 L948.0 826.6 L949.5 812.7 L951.0 797.9 L952.5 781.9 L954.0 764.7 L955.5 746.3 L957.0 727.0 L958.5 707.1 L960.0 686.5 L961.5 665.5 L963.0 644.0 L964.5 620.3 L966.0 593.1 L967.5 564.9 L969.0 536.4 L970.5 507.8 L972.0 479.2 L973.5 450.7 L975.0 422.5 L976.5 396.2 L978.0 372.7 L979.5 352.7 L981.0 334.9 L982.5 321.3 L984.0 313.8 L985.5 308.9 L987.0 307.9 L988.5 312.2 L990.0 321.1 L991.5 332.7 L993.0 345.1 L994.5 361.3 L996.0 390.6 L997.5 416.2 L999.0 439.2 L1000.5 461.1 L1002.0 484.2 L1003.5 507.3 L1005.0 525.0 L1006.5 541.8 L1008.0 561.4 L1009.5 579.6 L1011.0 598.1 L1012.5 616.7 L1014.0 633.3 L1015.5 644.3 L1017.0 651.7 L1018.5 659.0 L1020.0 667.1 L1021.5 675.9 L1023.0 684.7 L1024.5 692.9 L1026.0 700.5 L1027.5 706.2 L1029.0 709.4 L1030.5 711.6 L1032.0 714.6 L1033.5 717.1 L1035.0 720.7 L1036.5 726.4 L1038.0 732.2 L1039.5 738.4 L1041.0 745.1 L1042.5 753.1 L1044.0 761.7 L1045.5 770.2 L1047.0 778.7 L1048.5 786.7 L1050.0 794.6 L1051.5 803.4 L1053.0 811.5 L1054.5 818.2 L1056.0 825.3 L1057.5 832.6 L1059.0 839.8 L1060.5 846.9 L1062.0 853.9 L1063.5 860.8 L1065.0 867.4 L1066.5 873.7 L1068.0 879.0 L1069.5 883.4 L1071.0 887.4 L1072.5 891.1 L1074.0 894.9 L1075.5 898.6 L1077.0 902.2 L1078.5 905.7 L1080.0 909.1 L1081.5 912.0 L1083.0 914.4 L1084.5 916.5 L1086.0 918.5 L1087.5 920.5 L1089.0 922.4 L1090.5 924.1 L1092.0 925.5 L1093.5 926.6 L1095.0 927.4 L1096.5 928.0 L1098.0 928.3 L1099.5 928.3 L1101.0 928.0 L1102.5 927.7 L1104.0 927.3 L1105.5 926.7 L1107.0 926.1 L1108.5 925.5 L1110.0 924.8 L1111.5 924.1 L1113.0 923.2 L1114.5 922.2 L1116.0 920.9 L1117.5 919.4 L1119.0 917.7 L1120.5 915.6 L1122.0 913.2 L1123.5 910.6 L1125.0 907.9 L1126.5 905.0 L1128.0 902.1 L1129.5 899.2 L1131.0 896.1 L1132.5 892.9 L1134.0 889.4 L1135.5 885.7 L1137.0 881.2 L1138.5 876.3 L1140.0 871.1 L1141.5 865.7 L1143.0 860.2 L1144.5 854.5 L1146.0 848.5 L1147.5 842.2 L1149.0 835.5 L1150.5 828.3 L1152.0 820.4 L1153.5 812.1 L1155.0 803.5 L1156.5 794.5 L1158.0 785.3 L1159.5 775.2 L1161.0 764.7 L1162.5 754.3 L1164.0 744.5 L1165.5 735.8 L1167.0 728.1 L1168.5 721.5 L1170.0 715.7 L1171.5 710.9 L1173.0 706.6 L1174.5 702.2 L1176.0 697.2 L1177.5 691.4 L1179.0 685.7 L1180.5 680.8 L1182.0 677.3 L1183.5 675.6 L1185.0 675.1 L1186.5 674.8 L1188.0 674.5 L1189.5 674.6 L1191.0 675.9 L1192.5 678.9 L1194.0 683.1 L1195.5 687.6 L1197.0 692.7 L1198.5 698.3 L1200.0 703.9 L1201.5 709.6 L1203.0 715.4 L1204.5 721.2 L1206.0 727.2 L1207.5 733.2 L1209.0 739.2 L1210.5 744.9 L1212.0 750.3 L1213.5 755.4 L1215.0 760.3 L1216.5 764.9 L1218.0 768.9 L1219.5 772.5 L1221.0 775.8 L1222.5 778.9 L1224.0 782.4 L1225.5 786.5 L1227.0 790.7 L1228.5 794.7 L1230.0 797.9 L1231.5 800.5 L1233.0 802.8 L1234.5 804.7 L1236.0 806.1 L1237.5 806.7 L1239.0 806.8 L1240.5 806.3 L1242.0 805.2 L1243.5 803.6 L1245.0 801.4 L1246.5 798.9 L1248.0 796.2 L1249.5 793.4 L1251.0 790.4 L1252.5 787.3 L1254.0 784.4 L1255.5 781.6 L1257.0 779.0 L1258.5 776.7 L1260.0 774.8 L1261.5 773.0 L1263.0 771.5 L1264.5 770.1 L1266.0 768.8 L1267.5 767.8 L1269.0 767.0 L1270.5 766.4 L1272.0 765.9 L1273.5 765.5 L1275.0 765.0 L1276.5 765.1 L1278.0 765.8 L1279.5 766.9 L1281.0 768.4 L1282.5 770.3 L1284.0 773.2 L1285.5 777.3 L1287.0 782.1 L1288.5 787.1 L1290.0 791.8 L1291.5 796.7 L1293.0 801.8 L1294.5 806.9 L1296.0 812.0 L1297.5 816.8 L1299.0 821.9 L1300.5 827.4 L1302.0 833.2 L1303.5 839.3 L1305.0 846.3 L1306.5 853.1 L1308.0 858.0 L1309.5 862.2 L1311.0 866.7 L1312.5 871.7 L1314.0 877.2 L1315.5 882.9 L1317.0 888.7 L1318.5 894.6 L1320.0 900.1 L1321.5 905.1 L1323.0 909.5 L1324.5 913.1 L1326.0 915.9 L1327.5 918.0 L1329.0 919.7 L1330.5 921.2 L1332.0 922.5 L1333.5 923.8 L1335.0 925.0 L1336.5 926.1 L1338.0 927.1 L1339.5 928.0 L1341.0 928.7 L1342.5 929.3 L1344.0 929.8 L1345.5 930.3 L1347.0 930.5 L1348.5 930.5 L1350.0 930.2 L1351.5 929.5 L1353.0 928.4 L1354.5 927.1 L1356.0 925.6 L1357.5 923.6 L1359.0 920.8 L1360.5 917.5 L1362.0 914.4 L1363.5 912.0 L1365.0 910.6 L1366.5 909.9 L1368.0 910.3 L1369.5 912.4 L1371.0 914.5 L1372.5 915.1 L1374.0 913.4 L1375.5 910.9 L1377.0 907.3 L1378.5 903.2 L1380.0 899.3 L1381.5 896.4 L1383.0 893.9 L1384.5 891.3 L1386.0 888.8 L1387.5 886.3 L1389.0 883.9 L1390.5 881.5 L1392.0 879.2 L1393.5 876.9 L1395.0 874.4 L1396.5 871.6 L1398.0 868.6 L1399.5 865.7 L1401.0 863.4 L1402.5 861.4 L1404.0 859.3 L1405.5 857.5 L1407.0 856.0 L1408.5 855.0 L1410.0 854.6 L1411.5 854.5 L1413.0 854.5 L1414.5 854.5 L1416.0 854.8 L1417.5 855.0 L1419.0 855.2 L1420.5 855.4 L1422.0 855.7 L1423.5 856.0 L1425.0 856.3 L1426.5 856.7 L1428.0 857.1 L1429.5 857.7 L1431.0 858.6 L1432.5 860.0 L1434.0 861.8 L1435.5 864.0 L1437.0 866.6 L1438.5 869.6 L1440.0 872.7 L1441.5 875.9 L1443.0 879.2 L1444.5 882.5 L1446.0 885.7 L1447.5 889.2 L1449.0 892.8 L1450.5 896.3 L1452.0 899.7 L1453.5 902.9 L1455.0 906.4 L1456.5 910.0 L1458.0 913.6 L1459.5 917.0 L1461.0 919.9 L1462.5 922.3 L1464.0 924.4 L1465.5 926.4 L1467.0 928.6 L1468.5 931.2 L1470.0 934.0 L1471.5 936.7 L1473.0 939.5 L1474.5 942.3 L1476.0 945.2 L1477.5 948.2 L1479.0 951.7 L1480.5 955.4 L1482.0 958.8 L1483.5 961.6 L1485.0 963.7 L1486.5 965.7 L1488.0 967.4 L1489.5 969.0 L1491.0 970.4 L1492.5 971.7 L1494.0 972.8 L1495.5 973.6 L1497.0 973.9 L1498.5 973.7 L1500.0 973.6 L1501.5 973.8 L1503.0 974.6 L1504.5 976.3 L1506.0 978.5 L1507.5 981.0 L1509.0 983.6 L1510.5 986.1 L1512.0 988.4 L1513.5 990.2 L1515.0 991.9 L1516.5 993.5 L1518.0 994.9 L1519.5 996.1 L1521.0 997.1 L1522.5 997.8 L1524.0 998.4 L1525.5 998.8 L1527.0 999.1 L1528.5 999.4 L1530.0 999.8 L1531.5 1000.3 L1533.0 1000.8 L1534.5 1001.4 L1536.0 1001.9 L1537.5 1002.0 L1539.0 1001.9 L1540.5 1001.4 L1542.0 1000.8 L1543.5 1000.2 L1545.0 999.9 L1546.5 999.8 L1548.0 1000.5 L1549.5 1002.0 L1551.0 1003.9 L1552.5 1005.9 L1554.0 1007.4 L1555.5 1008.3 L1557.0 1008.7 L1558.5 1009.1 L1560.0 1009.4 L1561.5 1009.7 L1563.0 1010.0 L1564.5 1010.2 L1566.0 1010.3 L1567.5 1010.3 L1569.0 1010.2 L1570.5 1010.1 L1572.0 1010.0 L1573.5 1009.5 L1575.0 1007.1 L1576.5 1003.6 L1578.0 1000.3 L1579.5 998.3 L1581.0 998.6 L1582.5 1001.3 L1584.0 1005.0 L1585.5 1008.5 L1587.0 1010.5 L1588.5 1010.7 L1590.0 1009.9 L1591.5 1008.9 L1593.0 1008.6 L1594.5 1009.4 L1596.0 1010.8 L1597.5 1012.6 L1599.0 1014.5 L1600.5 1016.1 L1602.0 1017.3 L1603.5 1017.8 L1605.0 1018.2 L1606.5 1018.4 L1608.0 1018.5 L1609.5 1018.2 L1611.0 1017.7 L1612.5 1016.7 L1614.0 1015.6 L1615.5 1014.6 L1617.0 1014.1 L1618.5 1014.3 L1620.0 1015.5 L1621.5 1017.3 L1623.0 1019.3 L1624.5 1021.1 L1626.0 1022.2 L1627.5 1022.6 L1629.0 1022.2 L1630.5 1021.2 L1632.0 1020.0 L1633.5 1019.0 L1635.0 1018.7 L1636.5 1019.1 L1638.0 1020.0 L1639.5 1021.3 L1641.0 1022.7 L1642.5 1024.0 L1644.0 1025.1 L1645.5 1025.7 L1647.0 1025.7 L1648.5 1025.1 L1650.0 1024.1 L1651.5 1022.9 L1653.0 1021.6 L1654.5 1020.4 L1656.0 1019.4 L1657.5 1018.7 L1659.0 1018.3 L1660.5 1018.0 L1662.0 1017.9"/>
<path class="c" stroke="#008080" d="M358.5 1017.3 L360.0 1017.3 L361.5 1017.4 L363.0 1017.4 L364.5 1017.5 L366.0 1017.5 L367.5 1017.5 L369.0 1017.6 L370.5 1017.6 L372.0 1017.7 L373.5 1017.7 L375.0 1017.8 L376.5 1017.9 L378.0 1018.0 L379.5 1018.1 L381.0 1018.2 L382.5 1018.3 L384.0 1018.4 L385.5 1018.5 L387.0 1018.6 L388.5 1018.7 L390.0 1018.8 L391.5 1019.0 L393.0 1019.1 L394.5 1019.3 L396.0 1019.5 L397.5 1019.7 L399.0 1019.8 L400.5 1020.0 L402.0 1020.2 L403.5 1020.4 L405.0 1020.6 L406.5 1020.8 L408.0 1021.0 L409.5 1021.2 L411.0 1021.3 L412.5 1021.5 L414.0 1021.7 L415.5 1021.7 L417.0 1021.8 L418.5 1021.7 L420.0 1021.6 L421.5 1021.5 L423.0 1021.4 L424.5 1021.2 L426.0 1021.1 L427.5 1020.9 L429.0 1020.8 L430.5 1020.6 L432.0 1020.5 L433.5 1020.4 L435.0 1020.3 L436.5 1020.2 L438.0 1020.3 L439.5 1020.5 L441.0 1020.8 L442.5 1021.2 L444.0 1021.5 L445.5 1021.8 L447.0 1022.2 L448.5 1022.6 L450.0 1023.0 L451.5 1023.3 L453.0 1023.7 L454.5 1024.0 L456.0 1024.3 L457.5 1024.6 L459.0 1024.8 L460.5 1025.0 L462.0 1025.0 L463.5 1024.8 L465.0 1024.6 L466.5 1024.4 L468.0 1024.1 L469.5 1023.8 L471.0 1023.6 L472.5 1023.3 L474.0 1023.0 L475.5 1022.7 L477.0 1022.3 L478.5 1022.0 L480.0 1021.7 L481.5 1021.3 L483.0 1020.9 L484.5 1020.6 L486.0 1020.2 L487.5 1019.9 L489.0 1019.6 L490.5 1019.3 L492.0 1019.1 L493.5 1019.0 L495.0 1018.9 L496.5 1018.8 L498.0 1018.7 L499.5 1018.5 L501.0 1018.4 L502.5 1018.3 L504.0 1018.3 L505.5 1018.2 L507.0 1018.2 L508.5 1018.1 L510.0 1018.1 L511.5 1018.1 L513.0 1018.1 L514.5 1018.1 L516.0 1018.0 L517.5 1018.0 L519.0 1018.0 L520.5 1018.0 L522.0 1018.0 L523.5 1018.0 L525.0 1017.9 L526.5 1017.9 L528.0 1017.9 L529.5 1017.9 L531.0 1017.9 L532.5 1017.8 L534.0 1017.8 L535.5 1017.8 L537.0 1017.8 L538.5 1017.7 L540.0 1017.7 L541.5 1017.6 L543.0 1017.6 L544.5 1017.5 L546.0 1017.5 L547.5 1017.4 L549.0 1017.4 L550.5 1017.3 L552.0 1017.3 L553.5 1017.2 L555.0 1017.2 L556.5 1017.1 L558.0 1017.1 L559.5 1017.0 L561.0 1017.0 L562.5 1016.9 L564.0 1016.8 L565.5 1016.8 L567.0 1016.7 L568.5 1016.6 L570.0 1016.5 L571.5 1016.4 L573.0 1016.3 L574.5 1016.2 L576.0 1016.1 L577.5 1016.0 L579.0 1015.9 L580.5 1015.8 L582.0 1015.7 L583.5 1015.6 L585.0 1015.5 L586.5 1015.4 L588.0 1015.3 L589.5 1015.3 L591.0 1015.3 L592.5 1015.3 L594.0 1015.4 L595.5 1015.5 L597.0 1015.6 L598.5 1015.7 L600.0 1015.9 L601.5 1016.0 L603.0 1016.1 L604.5 1016.2 L606.0 1016.4 L607.5 1016.5 L609.0 1016.6 L610.5 1016.7 L612.0 1016.7 L613.5 1016.8 L615.0 1016.8 L616.5 1016.8 L618.0 1016.7 L619.5 1016.6 L621.0 1016.3 L622.5 1016.0 L624.0 1015.6 L625.5 1015.2 L627.0 1014.7 L628.5 1014.3 L630.0 1013.9 L631.5 1013.5 L633.0 1013.0 L634.5 1012.6 L636.0 1012.2 L637.5 1011.8 L639.0 1011.5 L640.5 1011.3 L642.0 1011.3 L643.5 1011.2 L645.0 1011.1 L646.5 1011.1 L648.0 1011.0 L649.5 1010.9 L651.0 1010.8 L652.5 1010.8 L654.0 1010.8 L655.5 1010.9 L657.0 1010.9 L658.5 1010.7 L660.0 1010.5 L661.5 1010.2 L663.0 1009.9 L664.5 1009.6 L666.0 1009.4 L667.5 1009.2 L669.0 1009.0 L670.5 1009.1 L672.0 1009.3 L673.5 1009.7 L675.0 1009.9 L676.5 1009.8 L678.0 1009.3 L679.5 1008.6 L681.0 1008.3 L682.5 1008.5 L684.0 1009.3 L685.5 1010.4 L687.0 1011.5 L688.5 1012.2 L690.0 1012.8 L691.5 1013.2 L693.0 1013.5 L694.5 1013.8 L696.0 1014.1 L697.5 1014.3 L699.0 1014.4 L700.5 1014.5 L702.0 1014.7 L703.5 1014.7 L705.0 1014.6 L706.5 1014.3 L708.0 1014.0 L709.5 1013.6 L711.0 1013.2 L712.5 1012.9 L714.0 1012.5 L715.5 1012.1 L717.0 1011.8 L718.5 1011.4 L720.0 1010.5 L721.5 1009.3 L723.0 1008.0 L724.5 1006.7 L726.0 1005.4 L727.5 1004.1 L729.0 1003.1 L730.5 1002.4 L732.0 1001.9 L733.5 1001.6 L735.0 1001.4 L736.5 1001.1 L738.0 1000.8 L739.5 1000.4 L741.0 1000.0 L742.5 999.5 L744.0 998.9 L745.5 997.3 L747.0 994.6 L748.5 991.6 L750.0 989.4 L751.5 988.1 L753.0 986.7 L754.5 985.3 L756.0 983.9 L757.5 982.4 L759.0 981.1 L760.5 979.9 L762.0 978.9 L763.5 977.9 L765.0 976.9 L766.5 975.5 L768.0 973.7 L769.5 971.5 L771.0 969.4 L772.5 967.2 L774.0 965.3 L775.5 963.4 L777.0 961.6 L778.5 959.9 L780.0 958.0 L781.5 956.0 L783.0 953.5 L784.5 948.6 L786.0 941.7 L787.5 933.8 L789.0 925.7 L790.5 917.4 L792.0 908.6 L793.5 899.4 L795.0 890.0 L796.5 881.0 L798.0 871.1 L799.5 859.0 L801.0 843.3 L802.5 823.3 L804.0 802.7 L805.5 782.1 L807.0 761.4 L808.5 740.6 L810.0 719.7 L811.5 691.3 L813.0 652.7 L814.5 627.5 L816.0 605.8 L817.5 580.8 L819.0 547.1 L820.5 514.2 L822.0 486.3 L823.5 462.7 L825.0 443.7 L826.5 427.4 L828.0 416.4 L829.5 412.7 L831.0 416.3 L832.5 425.2 L834.0 437.3 L835.5 451.8 L837.0 470.6 L838.5 496.7 L840.0 529.5 L841.5 557.3 L843.0 580.2 L844.5 603.7 L846.0 628.3 L847.5 653.4 L849.0 678.4 L850.5 702.4 L852.0 724.5 L853.5 744.5 L855.0 762.2 L856.5 777.8 L858.0 792.0 L859.5 805.3 L861.0 818.2 L862.5 830.0 L864.0 840.1 L865.5 848.0 L867.0 854.2 L868.5 858.8 L870.0 861.8 L871.5 864.1 L873.0 866.6 L874.5 869.2 L876.0 872.1 L877.5 875.4 L879.0 878.6 L880.5 882.0 L882.0 885.4 L883.5 889.0 L885.0 892.6 L886.5 896.9 L888.0 902.1 L889.5 907.2 L891.0 911.4 L892.5 915.0 L894.0 918.2 L895.5 921.0 L897.0 923.6 L898.5 925.9 L900.0 927.9 L901.5 929.8 L903.0 931.4 L904.5 932.8 L906.0 933.9 L907.5 934.8 L909.0 935.5 L910.5 935.9 L912.0 936.1 L913.5 936.1 L915.0 935.9 L916.5 935.4 L918.0 934.5 L919.5 933.2 L921.0 931.3 L922.5 928.7 L924.0 925.8 L925.5 922.8 L927.0 919.7 L928.5 916.5 L930.0 913.2 L931.5 909.9 L933.0 906.6 L934.5 903.2 L936.0 899.8 L937.5 896.3 L939.0 892.7 L940.5 887.6 L942.0 880.4 L943.5 871.5 L945.0 861.1 L946.5 849.6 L948.0 837.2 L949.5 824.0 L951.0 810.0 L952.5 795.0 L954.0 778.9 L955.5 761.5 L957.0 743.4 L958.5 724.7 L960.0 705.5 L961.5 686.0 L963.0 666.2 L964.5 644.6 L966.0 620.0 L967.5 597.0 L969.0 576.8 L970.5 556.7 L972.0 533.4 L973.5 508.8 L975.0 484.3 L976.5 461.4 L978.0 440.3 L979.5 420.8 L981.0 402.2 L982.5 386.9 L984.0 376.8 L985.5 369.7 L987.0 366.9 L988.5 369.4 L990.0 375.5 L991.5 383.6 L993.0 392.0 L994.5 403.8 L996.0 427.5 L997.5 447.9 L999.0 466.0 L1000.5 482.9 L1002.0 501.5 L1003.5 520.5 L1005.0 531.8 L1006.5 540.8 L1008.0 549.2 L1009.5 555.9 L1011.0 568.1 L1012.5 580.2 L1014.0 592.5 L1015.5 606.8 L1017.0 620.0 L1018.5 628.8 L1020.0 634.2 L1021.5 638.3 L1023.0 642.1 L1024.5 645.2 L1026.0 647.4 L1027.5 649.1 L1029.0 650.3 L1030.5 650.8 L1032.0 650.9 L1033.5 651.1 L1035.0 651.6 L1036.5 652.9 L1038.0 657.1 L1039.5 663.6 L1041.0 671.0 L1042.5 678.6 L1044.0 686.4 L1045.5 694.4 L1047.0 703.1 L1048.5 714.3 L1050.0 724.4 L1051.5 732.9 L1053.0 741.0 L1054.5 749.2 L1056.0 758.1 L1057.5 768.0 L1059.0 778.5 L1060.5 790.2 L1062.0 802.6 L1063.5 814.4 L1065.0 824.5 L1066.5 833.7 L1068.0 841.5 L1069.5 847.7 L1071.0 853.3 L1072.5 858.8 L1074.0 864.2 L1075.5 869.6 L1077.0 874.9 L1078.5 880.2 L1080.0 885.2 L1081.5 889.6 L1083.0 893.1 L1084.5 896.2 L1086.0 899.4 L1087.5 902.5 L1089.0 905.4 L1090.5 908.1 L1092.0 910.5 L1093.5 912.6 L1095.0 914.2 L1096.5 915.5 L1098.0 916.5 L1099.5 917.2 L1101.0 917.6 L1102.5 917.9 L1104.0 918.1 L1105.5 918.2 L1107.0 918.3 L1108.5 918.3 L1110.0 918.2 L1111.5 918.1 L1113.0 917.9 L1114.5 917.3 L1116.0 916.6 L1117.5 915.5 L1119.0 914.2 L1120.5 912.7 L1122.0 910.9 L1123.5 908.9 L1125.0 906.7 L1126.5 904.4 L1128.0 902.1 L1129.5 899.6 L1131.0 897.1 L1132.5 894.4 L1134.0 891.6 L1135.5 888.4 L1137.0 884.7 L1138.5 880.5 L1140.0 876.1 L1141.5 871.4 L1143.0 866.8 L1144.5 861.9 L1146.0 856.8 L1147.5 851.4 L1149.0 845.6 L1150.5 839.4 L1152.0 832.6 L1153.5 825.5 L1155.0 817.9 L1156.5 810.2 L1158.0 802.1 L1159.5 793.2 L1161.0 784.0 L1162.5 774.9 L1164.0 766.3 L1165.5 758.6 L1167.0 751.8 L1168.5 745.9 L1170.0 740.7 L1171.5 736.3 L1173.0 732.4 L1174.5 728.4 L1176.0 723.9 L1177.5 718.7 L1179.0 713.5 L1180.5 709.0 L1182.0 705.8 L1183.5 704.2 L1185.0 703.5 L1186.5 703.1 L1188.0 702.8 L1189.5 702.9 L1191.0 704.1 L1192.5 706.9 L1194.0 710.7 L1195.5 714.8 L1197.0 719.5 L1198.5 724.6 L1200.0 729.7 L1201.5 734.9 L1203.0 740.1 L1204.5 745.4 L1206.0 750.7 L1207.5 756.1 L1209.0 761.4 L1210.5 766.3 L1212.0 770.8 L1213.5 775.0 L1215.0 779.0 L1216.5 783.0 L1218.0 787.0 L1219.5 790.8 L1221.0 794.4 L1222.5 797.7 L1224.0 800.7 L1225.5 803.5 L1227.0 806.1 L1228.5 808.6 L1230.0 810.9 L1231.5 812.9 L1233.0 814.9 L1234.5 816.7 L1236.0 818.1 L1237.5 819.0 L1239.0 819.3 L1240.5 819.1 L1242.0 818.5 L1243.5 817.5 L1245.0 816.0 L1246.5 814.2 L1248.0 812.2 L1249.5 810.3 L1251.0 808.2 L1252.5 805.8 L1254.0 803.3 L1255.5 800.6 L1257.0 797.9 L1258.5 795.3 L1260.0 792.9 L1261.5 790.9 L1263.0 789.3 L1264.5 788.1 L1266.0 787.2 L1267.5 786.7 L1269.0 786.4 L1270.5 786.3 L1272.0 786.2 L1273.5 786.0 L1275.0 784.9 L1276.5 784.5 L1278.0 784.7 L1279.5 785.3 L1281.0 786.3 L1282.5 787.7 L1284.0 790.0 L1285.5 793.3 L1287.0 797.0 L1288.5 800.7 L1290.0 804.1 L1291.5 807.5 L1293.0 811.1 L1294.5 814.8 L1296.0 818.8 L1297.5 823.0 L1299.0 827.5 L1300.5 832.5 L1302.0 837.7 L1303.5 843.2 L1305.0 849.4 L1306.5 855.5 L1308.0 859.7 L1309.5 863.2 L1311.0 867.1 L1312.5 871.7 L1314.0 876.7 L1315.5 882.0 L1317.0 887.4 L1318.5 892.9 L1320.0 898.0 L1321.5 902.7 L1323.0 906.7 L1324.5 909.9 L1326.0 912.3 L1327.5 914.1 L1329.0 915.4 L1330.5 916.5 L1332.0 917.4 L1333.5 918.3 L1335.0 919.1 L1336.5 919.8 L1338.0 920.4 L1339.5 920.9 L1341.0 921.2 L1342.5 921.4 L1344.0 921.5 L1345.5 921.5 L1347.0 921.3 L1348.5 920.7 L1350.0 919.8 L1351.5 918.5 L1353.0 916.8 L1354.5 914.7 L1356.0 912.4 L1357.5 909.7 L1359.0 906.1 L1360.5 902.1 L1362.0 898.0 L1363.5 894.6 L1365.0 892.0 L1366.5 889.9 L1368.0 888.0 L1369.5 885.7 L1371.0 882.9 L1372.5 879.9 L1374.0 876.8 L1375.5 873.3 L1377.0 869.2 L1378.5 864.6 L1380.0 860.0 L1381.5 856.0 L1383.0 851.8 L1384.5 846.8 L1386.0 841.3 L1387.5 835.8 L1389.0 830.6 L1390.5 825.7 L1392.0 821.1 L1393.5 816.6 L1395.0 812.1 L1396.5 807.1 L1398.0 801.9 L1399.5 796.9 L1401.0 792.5 L1402.5 788.5 L1404.0 784.4 L1405.5 780.5 L1407.0 776.9 L1408.5 774.1 L1410.0 772.0 L1411.5 770.4 L1413.0 769.1 L1414.5 768.2 L1416.0 767.8 L1417.5 767.7 L1419.0 767.9 L1420.5 768.3 L1422.0 769.0 L1423.5 770.0 L1425.0 771.4 L1426.5 773.0 L1428.0 774.7 L1429.5 776.6 L1431.0 779.0 L1432.5 782.0 L1434.0 785.2 L1435.5 788.8 L1437.0 792.6 L1438.5 796.5 L1440.0 800.5 L1441.5 804.8 L1443.0 809.5 L1444.5 814.5 L1446.0 819.6 L1447.5 825.1 L1449.0 831.0 L1450.5 836.9 L1452.0 842.5 L1453.5 847.7 L1455.0 853.1 L1456.5 858.6 L1458.0 863.9 L1459.5 868.9 L1461.0 873.4 L1462.5 877.4 L1464.0 881.1 L1465.5 884.8 L1467.0 888.6 L1468.5 892.8 L1470.0 897.1 L1471.5 901.3 L1473.0 905.5 L1474.5 909.7 L1476.0 913.8 L1477.5 918.0 L1479.0 922.6 L1480.5 927.2 L1482.0 931.5 L1483.5 935.2 L1485.0 938.3 L1486.5 941.1 L1488.0 943.8 L1489.5 946.3 L1491.0 948.6 L1492.5 950.8 L1494.0 952.7 L1495.5 954.3 L1497.0 955.3 L1498.5 956.0 L1500.0 956.6 L1501.5 957.6 L1503.0 959.2 L1504.5 961.5 L1506.0 964.2 L1507.5 967.2 L1509.0 970.2 L1510.5 973.3 L1512.0 976.0 L1513.5 978.4 L1515.0 980.6 L1516.5 982.6 L1518.0 984.4 L1519.5 986.0 L1521.0 987.2 L1522.5 988.2 L1524.0 988.9 L1525.5 989.5 L1527.0 990.1 L1528.5 990.7 L1530.0 991.3 L1531.5 992.1 L1533.0 993.1 L1534.5 994.0 L1536.0 994.9 L1537.5 995.5 L1539.0 995.6 L1540.5 995.3 L1542.0 994.7 L1543.5 994.2 L1545.0 993.9 L1546.5 993.9 L1548.0 994.7 L1549.5 996.4 L1551.0 998.4 L1552.5 1000.6 L1554.0 1002.3 L1555.5 1003.1 L1557.0 1003.6 L1558.5 1004.1 L1560.0 1004.5 L1561.5 1004.8 L1563.0 1005.1 L1564.5 1005.4 L1566.0 1005.6 L1567.5 1005.7 L1569.0 1005.7 L1570.5 1005.7 L1572.0 1005.7 L1573.5 1005.3 L1575.0 1002.9 L1576.5 999.5 L1578.0 996.2 L1579.5 994.2 L1581.0 994.8 L1582.5 997.8 L1584.0 1001.8 L1585.5 1005.4 L1587.0 1007.3 L1588.5 1007.4 L1590.0 1006.7 L1591.5 1005.8 L1593.0 1005.7 L1594.5 1006.5 L1596.0 1008.0 L1597.5 1009.8 L1599.0 1011.6 L1600.5 1013.2 L1602.0 1014.3 L1603.5 1015.0 L1605.0 1015.4 L1606.5 1015.7 L1608.0 1015.8 L1609.5 1015.6 L1611.0 1015.0 L1612.5 1013.9 L1614.0 1012.7 L1615.5 1011.7 L1617.0 1011.2 L1618.5 1011.5 L1620.0 1012.9 L1621.5 1015.0 L1623.0 1017.2 L1624.5 1019.0 L1626.0 1020.1 L1627.5 1020.3 L1629.0 1019.8 L1630.5 1018.7 L1632.0 1017.6 L1633.5 1016.6 L1635.0 1016.3 L1636.5 1016.8 L1638.0 1017.8 L1639.5 1019.2 L1641.0 1020.7 L1642.5 1022.1 L1644.0 1023.1 L1645.5 1023.7 L1647.0 1023.6 L1648.5 1022.9 L1650.0 1021.9 L1651.5 1020.6 L1653.0 1019.3 L1654.5 1018.0 L1656.0 1017.0 L1657.5 1016.3 L1659.0 1015.9 L1660.5 1015.7 L1662.0 1015.7"/>
<path class="c" stroke="#ff00ff" d="M358.5 1017.3 L360.0 1017.3 L361.5 1017.4 L363.0 1017.4 L364.5 1017.5 L366.0 1017.5 L367.5 1017.5 L369.0 1017.6 L370.5 1017.6 L372.0 1017.7 L373.5 1017.7 L375.0 1017.8 L376.5 1017.9 L378.0 1018.0 L379.5 1018.1 L381.0 1018.2 L382.5 1018.3 L384.0 1018.4 L385.5 1018.5 L387.0 1018.6 L388.5 1018.7 L390.0 1018.8 L391.5 1019.0 L393.0 1019.1 L394.5 1019.3 L396.0 1019.5 L397.5 1019.7 L399.0 1019.8 L400.5 1020.0 L402.0 1020.2 L403.5 1020.4 L405.0 1020.6 L406.5 1020.8 L408.0 1021.0 L409.5 1021.2 L411.0 1021.3 L412.5 1021.5 L414.0 1021.7 L415.5 1021.7 L417.0 1021.8 L418.5 1021.7 L420.0 1021.6 L421.5 1021.5 L423.0 1021.4 L424.5 1021.2 L426.0 1021.1 L427.5 1020.9 L429.0 1020.8 L430.5 1020.6 L432.0 1020.5 L433.5 1020.4 L435.0 1020.3 L436.5 1020.2 L438.0 1020.3 L439.5 1020.5 L441.0 1020.8 L442.5 1021.2 L444.0 1021.5 L445.5 1021.8 L447.0 1022.2 L448.5 1022.6 L450.0 1023.0 L451.5 1023.3 L453.0 1023.7 L454.5 1024.0 L456.0 1024.3 L457.5 1024.6 L459.0 1024.8 L460.5 1025.0 L462.0 1025.0 L463.5 1024.8 L465.0 1024.6 L466.5 1024.4 L468.0 1024.1 L469.5 1023.8 L471.0 1023.6 L472.5 1023.3 L474.0 1023.0 L475.5 1022.7 L477.0 1022.3 L478.5 1022.0 L480.0 1021.7 L481.5 1021.3 L483.0 1020.9 L484.5 1020.6 L486.0 1020.2 L487.5 1019.9 L489.0 1019.6 L490.5 1019.3 L492.0 1019.1 L493.5 1019.0 L495.0 1018.9 L496.5 1018.8 L498.0 1018.7 L499.5 1018.5 L501.0 1018.4 L502.5 1018.3 L504.0 1018.3 L505.5 1018.2 L507.0 1018.2 L508.5 1018.1 L510.0 1018.1 L511.5 1018.1 L513.0 1018.1 L514.5 1018.1 L516.0 1018.0 L517.5 1018.0 L519.0 1018.0 L520.5 1018.0 L522.0 1018.0 L523.5 1018.0 L525.0 1017.9 L526.5 1017.9 L528.0 1017.9 L529.5 1017.9 L531.0 1017.9 L532.5 1017.8 L534.0 1017.8 L535.5 1017.8 L537.0 1017.8 L538.5 1017.7 L540.0 1017.7 L541.5 1017.6 L543.0 1017.6 L544.5 1017.5 L546.0 1017.5 L547.5 1017.4 L549.0 1017.4 L550.5 1017.3 L552.0 1017.3 L553.5 1017.2 L555.0 1017.2 L556.5 1017.1 L558.0 1017.1 L559.5 1017.0 L561.0 1017.0 L562.5 1016.9 L564.0 1016.8 L565.5 1016.8 L567.0 1016.7 L568.5 1016.6 L570.0 1016.5 L571.5 1016.4 L573.0 1016.3 L574.5 1016.2 L576.0 1016.1 L577.5 1016.0 L579.0 1015.9 L580.5 1015.8 L582.0 1015.7 L583.5 1015.6 L585.0 1015.5 L586.5 1015.4 L588.0 1015.3 L589.5 1015.3 L591.0 1015.3 L592.5 1015.3 L594.0 1015.4 L595.5 1015.5 L597.0 1015.6 L598.5 1015.7 L600.0 1015.9 L601.5 1016.0 L603.0 1016.1 L604.5 1016.2 L606.0 1016.4 L607.5 1016.5 L609.0 1016.6 L610.5 1016.7 L612.0 1016.7 L613.5 1016.8 L615.0 1016.8 L616.5 1016.8 L618.0 1016.7 L619.5 1016.6 L621.0 1016.3 L622.5 1016.0 L624.0 1015.6 L625.5 1015.2 L627.0 1014.7 L628.5 1014.3 L630.0 1013.9 L631.5 1013.5 L633.0 1013.0 L634.5 1012.6 L636.0 1012.2 L637.5 1011.8 L639.0 1011.5 L640.5 1011.3 L642.0 1011.3 L643.5 1011.2 L645.0 1011.1 L646.5 1011.1 L648.0 1011.0 L649.5 1010.9 L651.0 1010.8 L652.5 1010.8 L654.0 1010.8 L655.5 1010.9 L657.0 1010.9 L658.5 1010.7 L660.0 1010.5 L661.5 1010.2 L663.0 1009.9 L664.5 1009.6 L666.0 1009.4 L667.5 1009.2 L669.0 1009.0 L670.5 1009.1 L672.0 1009.3 L673.5 1009.7 L675.0 1009.9 L676.5 1009.8 L678.0 1009.3 L679.5 1008.6 L681.0 1008.3 L682.5 1008.5 L684.0 1009.3 L685.5 1010.4 L687.0 1011.5 L688.5 1012.2 L690.0 1012.8 L691.5 1013.2 L693.0 1013.5 L694.5 1013.8 L696.0 1014.1 L697.5 1014.3 L699.0 1014.4 L700.5 1014.5 L702.0 1014.7 L703.5 1014.7 L705.0 1014.6 L706.5 1014.3 L708.0 1014.0 L709.5 1013.6 L711.0 1013.2 L712.5 1012.9 L714.0 1012.5 L715.5 1012.1 L717.0 1011.8 L718.5 1011.4 L720.0 1010.5 L721.5 1009.3 L723.0 1008.0 L724.5 1006.7 L726.0 1005.4 L727.5 1004.1 L729.0 1002.9 L730.5 1002.1 L732.0 1001.5 L733.5 1001.1 L735.0 1000.8 L736.5 1000.5 L738.0 1000.2 L739.5 999.8 L741.0 999.3 L742.5 998.9 L744.0 998.4 L745.5 997.1 L747.0 994.9 L748.5 992.5 L750.0 990.7 L751.5 989.6 L753.0 988.5 L754.5 987.2 L756.0 985.9 L757.5 984.7 L759.0 983.5 L760.5 982.6 L762.0 982.0 L763.5 981.4 L765.0 980.7 L766.5 979.7 L768.0 978.1 L769.5 976.3 L771.0 974.4 L772.5 972.6 L774.0 970.9 L775.5 969.3 L777.0 967.7 L778.5 966.1 L780.0 964.4 L781.5 962.7 L783.0 960.5 L784.5 956.3 L786.0 950.4 L787.5 943.7 L789.0 936.9 L790.5 929.8 L792.0 922.4 L793.5 914.6 L795.0 906.6 L796.5 898.8 L798.0 890.3 L799.5 879.8 L801.0 866.2 L802.5 849.0 L804.0 831.3 L805.5 813.4 L807.0 795.4 L808.5 777.3 L810.0 759.1 L811.5 734.6 L813.0 701.4 L814.5 679.4 L816.0 659.3 L817.5 633.1 L819.0 599.9 L820.5 572.3 L822.0 552.3 L823.5 535.9 L825.0 521.2 L826.5 508.5 L828.0 499.9 L829.5 497.0 L831.0 499.4 L832.5 505.1 L834.0 512.8 L835.5 522.2 L837.0 535.5 L838.5 554.2 L840.0 575.6 L841.5 593.3 L843.0 610.3 L844.5 631.9 L846.0 654.2 L847.5 676.9 L849.0 699.6 L850.5 721.2 L852.0 741.3 L853.5 759.5 L855.0 775.5 L856.5 789.7 L858.0 802.6 L859.5 814.7 L861.0 826.3 L862.5 837.0 L864.0 846.1 L865.5 853.3 L867.0 858.9 L868.5 863.2 L870.0 866.2 L871.5 868.7 L873.0 871.4 L874.5 874.3 L876.0 877.6 L877.5 881.0 L879.0 884.6 L880.5 888.2 L882.0 891.9 L883.5 895.6 L885.0 899.5 L886.5 903.8 L888.0 909.4 L889.5 914.7 L891.0 918.9 L892.5 922.4 L894.0 925.5 L895.5 928.3 L897.0 930.7 L898.5 932.9 L900.0 934.8 L901.5 936.5 L903.0 938.1 L904.5 939.4 L906.0 940.5 L907.5 941.4 L909.0 942.1 L910.5 942.6 L912.0 942.8 L913.5 942.9 L915.0 942.8 L916.5 942.4 L918.0 941.7 L919.5 940.7 L921.0 939.2 L922.5 937.2 L924.0 934.9 L925.5 932.6 L927.0 930.2 L928.5 927.8 L930.0 925.3 L931.5 922.9 L933.0 920.4 L934.5 917.9 L936.0 915.4 L937.5 912.8 L939.0 910.1 L940.5 906.2 L942.0 900.5 L943.5 893.3 L945.0 884.9 L946.5 875.8 L948.0 866.2 L949.5 856.4 L951.0 846.0 L952.5 834.9 L954.0 822.7 L955.5 809.2 L957.0 794.9 L958.5 780.0 L960.0 764.4 L961.5 748.1 L963.0 729.9 L964.5 706.1 L966.0 681.1 L967.5 657.2 L969.0 637.1 L970.5 617.6 L972.0 605.1 L973.5 586.8 L975.0 564.1 L976.5 538.1 L978.0 509.2 L979.5 489.4 L981.0 476.6 L982.5 467.4 L984.0 459.2 L985.5 451.0 L987.0 445.0 L988.5 443.7 L990.0 447.5 L991.5 454.9 L993.0 464.7 L994.5 474.9 L996.0 483.9 L997.5 492.9 L999.0 501.8 L1000.5 510.7 L1002.0 519.7 L1003.5 528.6 L1005.0 537.8 L1006.5 546.5 L1008.0 553.6 L1009.5 560.0 L1011.0 566.1 L1012.5 571.3 L1014.0 575.8 L1015.5 579.3 L1017.0 581.7 L1018.5 583.0 L1020.0 583.3 L1021.5 582.6 L1023.0 581.0 L1024.5 578.5 L1026.0 575.1 L1027.5 571.0 L1029.0 566.9 L1030.5 563.7 L1032.0 561.3 L1033.5 559.5 L1035.0 558.1 L1036.5 557.0 L1038.0 557.5 L1039.5 562.8 L1041.0 574.4 L1042.5 586.7 L1044.0 597.8 L1045.5 607.3 L1047.0 617.4 L1048.5 629.2 L1050.0 641.8 L1051.5 657.5 L1053.0 672.1 L1054.5 684.2 L1056.0 697.3 L1057.5 710.5 L1059.0 723.1 L1060.5 735.6 L1062.0 748.5 L1063.5 761.8 L1065.0 776.6 L1066.5 792.0 L1068.0 805.3 L1069.5 815.4 L1071.0 822.8 L1072.5 829.6 L1074.0 836.5 L1075.5 843.3 L1077.0 850.1 L1078.5 856.8 L1080.0 863.4 L1081.5 869.0 L1083.0 873.5 L1084.5 877.5 L1086.0 881.5 L1087.5 885.6 L1089.0 889.5 L1090.5 893.1 L1092.0 896.4 L1093.5 899.3 L1095.0 901.7 L1096.5 903.7 L1098.0 905.3 L1099.5 906.6 L1101.0 907.6 L1102.5 908.4 L1104.0 909.2 L1105.5 909.9 L1107.0 910.6 L1108.5 911.2 L1110.0 911.8 L1111.5 912.3 L1113.0 912.6 L1114.5 912.6 L1116.0 912.2 L1117.5 911.6 L1119.0 910.8 L1120.5 909.7 L1122.0 908.5 L1123.5 907.1 L1125.0 905.5 L1126.5 903.8 L1128.0 902.0 L1129.5 900.1 L1131.0 898.2 L1132.5 896.1 L1134.0 893.8 L1135.5 891.3 L1137.0 888.3 L1138.5 885.0 L1140.0 881.4 L1141.5 877.6 L1143.0 873.9 L1144.5 870.0 L1146.0 865.9 L1147.5 861.5 L1149.0 856.8 L1150.5 851.8 L1152.0 846.4 L1153.5 840.6 L1155.0 834.5 L1156.5 829.1 L1158.0 824.7 L1159.5 820.3 L1161.0 815.5 L1162.5 809.4 L1164.0 802.6 L1165.5 796.0 L1167.0 789.7 L1168.5 783.8 L1170.0 778.3 L1171.5 772.5 L1173.0 766.3 L1174.5 761.1 L1176.0 757.1 L1177.5 752.7 L1179.0 748.5 L1180.5 744.8 L1182.0 742.2 L1183.5 740.9 L1185.0 740.4 L1186.5 740.1 L1188.0 739.8 L1189.5 739.7 L1191.0 740.2 L1192.5 741.7 L1194.0 744.0 L1195.5 746.5 L1197.0 749.5 L1198.5 753.1 L1200.0 756.9 L1201.5 761.1 L1203.0 765.5 L1204.5 769.9 L1206.0 774.4 L1207.5 779.0 L1209.0 783.5 L1210.5 787.7 L1212.0 791.4 L1213.5 794.7 L1215.0 797.7 L1216.5 800.7 L1218.0 803.5 L1219.5 806.4 L1221.0 809.5 L1222.5 812.6 L1224.0 815.6 L1225.5 818.5 L1227.0 821.3 L1228.5 824.0 L1230.0 826.5 L1231.5 828.8 L1233.0 830.9 L1234.5 832.9 L1236.0 834.7 L1237.5 836.1 L1239.0 837.1 L1240.5 837.5 L1242.0 837.1 L1243.5 836.3 L1245.0 835.0 L1246.5 833.5 L1248.0 831.8 L1249.5 830.2 L1251.0 828.5 L1252.5 826.6 L1254.0 824.4 L1255.5 822.3 L1257.0 820.1 L1258.5 817.9 L1260.0 816.0 L1261.5 814.4 L1263.0 813.2 L1264.5 812.1 L1266.0 811.2 L1267.5 810.5 L1269.0 809.9 L1270.5 809.5 L1272.0 809.1 L1273.5 808.8 L1275.0 808.0 L1276.5 807.6 L1278.0 807.6 L1279.5 808.0 L1281.0 808.6 L1282.5 809.4 L1284.0 810.5 L1285.5 812.0 L1287.0 814.4 L1288.5 817.5 L1290.0 820.7 L1291.5 823.6 L1293.0 825.9 L1294.5 827.8 L1296.0 829.7 L1297.5 832.1 L1299.0 835.3 L1300.5 839.4 L1302.0 843.8 L1303.5 848.5 L1305.0 853.8 L1306.5 858.8 L1308.0 862.0 L1309.5 864.7 L1311.0 867.8 L1312.5 871.6 L1314.0 876.0 L1315.5 880.6 L1317.0 885.4 L1318.5 890.4 L1320.0 894.9 L1321.5 898.9 L1323.0 902.3 L1324.5 904.9 L1326.0 906.6 L1327.5 907.6 L1329.0 908.2 L1330.5 908.5 L1332.0 908.7 L1333.5 908.8 L1335.0 908.7 L1336.5 908.6 L1338.0 908.4 L1339.5 908.0 L1341.0 907.4 L1342.5 906.8 L1344.0 906.0 L1345.5 905.0 L1347.0 903.9 L1348.5 902.2 L1350.0 900.1 L1351.5 897.5 L1353.0 894.4 L1354.5 890.9 L1356.0 887.2 L1357.5 883.0 L1359.0 878.0 L1360.5 872.4 L1362.0 866.8 L1363.5 861.4 L1365.0 856.7 L1366.5 852.4 L1368.0 848.1 L1369.5 843.6 L1371.0 838.6 L1372.5 833.5 L1374.0 828.2 L1375.5 822.7 L1377.0 816.6 L1378.5 810.2 L1380.0 804.0 L1381.5 798.4 L1383.0 792.2 L1384.5 785.0 L1386.0 777.2 L1387.5 769.5 L1389.0 762.4 L1390.5 755.3 L1392.0 748.2 L1393.5 741.1 L1395.0 733.8 L1396.5 726.2 L1398.0 718.5 L1399.5 711.2 L1401.0 705.1 L1402.5 699.7 L1404.0 694.2 L1405.5 688.9 L1407.0 684.2 L1408.5 680.4 L1410.0 677.7 L1411.5 675.5 L1413.0 673.7 L1414.5 672.5 L1416.0 671.8 L1417.5 671.7 L1419.0 671.9 L1420.5 672.4 L1422.0 673.4 L1423.5 674.9 L1425.0 676.9 L1426.5 679.4 L1428.0 682.1 L1429.5 685.1 L1431.0 688.8 L1432.5 693.2 L1434.0 697.8 L1435.5 702.7 L1437.0 707.8 L1438.5 712.9 L1440.0 718.2 L1441.5 724.1 L1443.0 731.5 L1444.5 739.7 L1446.0 748.0 L1447.5 756.7 L1449.0 765.2 L1450.5 773.0 L1452.0 779.7 L1453.5 785.5 L1455.0 791.3 L1456.5 797.2 L1458.0 803.1 L1459.5 809.0 L1461.0 814.9 L1462.5 820.7 L1464.0 826.3 L1465.5 832.1 L1467.0 838.0 L1468.5 844.3 L1470.0 850.6 L1471.5 856.7 L1473.0 862.8 L1474.5 868.6 L1476.0 874.4 L1477.5 880.1 L1479.0 886.0 L1480.5 891.9 L1482.0 897.3 L1483.5 902.1 L1485.0 906.3 L1486.5 910.3 L1488.0 914.1 L1489.5 917.8 L1491.0 921.3 L1492.5 924.5 L1494.0 927.5 L1495.5 930.1 L1497.0 932.1 L1498.5 933.8 L1500.0 935.6 L1501.5 937.5 L1503.0 939.9 L1504.5 943.0 L1506.0 946.4 L1507.5 950.0 L1509.0 953.7 L1510.5 957.3 L1512.0 960.7 L1513.5 963.8 L1515.0 966.7 L1516.5 969.2 L1518.0 971.5 L1519.5 973.5 L1521.0 975.1 L1522.5 976.4 L1524.0 977.4 L1525.5 978.3 L1527.0 979.1 L1528.5 980.0 L1530.0 981.0 L1531.5 982.2 L1533.0 983.6 L1534.5 985.1 L1536.0 986.5 L1537.5 987.5 L1539.0 987.9 L1540.5 987.8 L1542.0 987.4 L1543.5 987.0 L1545.0 986.7 L1546.5 986.8 L1548.0 987.7 L1549.5 989.5 L1551.0 991.8 L1552.5 994.2 L1554.0 996.0 L1555.5 997.0 L1557.0 997.5 L1558.5 998.0 L1560.0 998.5 L1561.5 998.9 L1563.0 999.3 L1564.5 999.6 L1566.0 999.9 L1567.5 1000.1 L1569.0 1000.3 L1570.5 1000.4 L1572.0 1000.5 L1573.5 1000.2 L1575.0 997.9 L1576.5 994.5 L1578.0 991.2 L1579.5 989.4 L1581.0 990.3 L1582.5 993.6 L1584.0 997.9 L1585.5 1001.6 L1587.0 1003.5 L1588.5 1003.5 L1590.0 1002.8 L1591.5 1002.1 L1593.0 1002.1 L1594.5 1003.1 L1596.0 1004.6 L1597.5 1006.3 L1599.0 1008.1 L1600.5 1009.6 L1602.0 1010.8 L1603.5 1011.5 L1605.0 1012.0 L1606.5 1012.4 L1608.0 1012.7 L1609.5 1012.4 L1611.0 1011.7 L1612.5 1010.5 L1614.0 1009.3 L1615.5 1008.2 L1617.0 1007.7 L1618.5 1008.2 L1620.0 1009.9 L1621.5 1012.2 L1623.0 1014.6 L1624.5 1016.5 L1626.0 1017.5 L1627.5 1017.6 L1629.0 1017.0 L1630.5 1015.9 L1632.0 1014.7 L1633.5 1013.7 L1635.0 1013.4 L1636.5 1014.0 L1638.0 1015.1 L1639.5 1016.6 L1641.0 1018.2 L1642.5 1019.7 L1644.0 1020.8 L1645.5 1021.3 L1647.0 1021.1 L1648.5 1020.3 L1650.0 1019.2 L1651.5 1017.9 L1653.0 1016.5 L1654.5 1015.2 L1656.0 1014.1 L1657.5 1013.5 L1659.0 1013.1 L1660.5 1013.0 L1662.0 1013.1"/>
<path class="c" stroke="#808000" d="M358.5 1016.0 L360.0 1016.0 L361.5 1016.1 L363.0 1016.1 L364.5 1016.2 L366.0 1016.2 L367.5 1016.2 L369.0 1016.3 L370.5 1016.3 L372.0 1016.4 L373.5 1016.4 L375.0 1016.5 L376.5 1016.6 L378.0 1016.7 L379.5 1016.8 L381.0 1016.9 L382.5 1017.0 L384.0 1017.1 L385.5 1017.2 L387.0 1017.3 L388.5 1017.4 L390.0 1017.5 L391.5 1017.7 L393.0 1017.8 L394.5 1018.0 L396.0 1018.2 L397.5 1018.3 L399.0 1018.5 L400.5 1018.7 L402.0 1018.9 L403.5 1019.1 L405.0 1019.3 L406.5 1019.5 L408.0 1019.7 L409.5 1019.9 L411.0 1020.1 L412.5 1020.2 L414.0 1020.4 L415.5 1020.5 L417.0 1020.5 L418.5 1020.4 L420.0 1020.4 L421.5 1020.2 L423.0 1020.1 L424.5 1020.0 L426.0 1019.8 L427.5 1019.6 L429.0 1019.5 L430.5 1019.3 L432.0 1019.2 L433.5 1019.1 L435.0 1019.0 L436.5 1018.9 L438.0 1019.0 L439.5 1019.2 L441.0 1019.5 L442.5 1019.8 L444.0 1020.2 L445.5 1020.5 L447.0 1020.9 L448.5 1021.3 L450.0 1021.7 L451.5 1022.1 L453.0 1022.5 L454.5 1022.8 L456.0 1023.1 L457.5 1023.4 L459.0 1023.6 L460.5 1023.7 L462.0 1023.7 L463.5 1023.5 L465.0 1023.3 L466.5 1023.1 L468.0 1022.8 L469.5 1022.6 L471.0 1022.3 L472.5 1022.0 L474.0 1021.7 L475.5 1021.4 L477.0 1021.0 L478.5 1020.7 L480.0 1020.3 L481.5 1020.0 L483.0 1019.6 L484.5 1019.3 L486.0 1018.9 L487.5 1018.6 L489.0 1018.3 L490.5 1018.0 L492.0 1017.8 L493.5 1017.7 L495.0 1017.6 L496.5 1017.4 L498.0 1017.3 L499.5 1017.2 L501.0 1017.1 L502.5 1017.0 L504.0 1017.0 L505.5 1016.9 L507.0 1016.9 L508.5 1016.8 L510.0 1016.8 L511.5 1016.8 L513.0 1016.8 L514.5 1016.8 L516.0 1016.7 L517.5 1016.7 L519.0 1016.7 L520.5 1016.7 L522.0 1016.7 L523.5 1016.7 L525.0 1016.6 L526.5 1016.6 L528.0 1016.6 L529.5 1016.6 L531.0 1016.6 L532.5 1016.5 L534.0 1016.5 L535.5 1016.5 L537.0 1016.5 L538.5 1016.4 L540.0 1016.4 L541.5 1016.3 L543.0 1016.3 L544.5 1016.3 L546.0 1016.2 L547.5 1016.1 L549.0 1016.1 L550.5 1016.0 L552.0 1016.0 L553.5 1015.9 L555.0 1015.9 L556.5 1015.8 L558.0 1015.8 L559.5 1015.7 L561.0 1015.7 L562.5 1015.6 L564.0 1015.5 L565.5 1015.5 L567.0 1015.4 L568.5 1015.3 L570.0 1015.2 L571.5 1015.1 L573.0 1015.0 L574.5 1014.9 L576.0 1014.8 L577.5 1014.7 L579.0 1014.6 L580.5 1014.5 L582.0 1014.4 L583.5 1014.3 L585.0 1014.2 L586.5 1014.1 L588.0 1014.0 L589.5 1014.0 L591.0 1013.9 L592.5 1014.0 L594.0 1014.1 L595.5 1014.2 L597.0 1014.3 L598.5 1014.4 L600.0 1014.6 L601.5 1014.6 L603.0 1014.7 L604.5 1014.8 L606.0 1014.9 L607.5 1015.0 L609.0 1015.0 L610.5 1015.1 L612.0 1015.1 L613.5 1015.0 L615.0 1015.0 L616.5 1014.9 L618.0 1014.8 L619.5 1014.5 L621.0 1014.2 L622.5 1013.8 L624.0 1013.3 L625.5 1012.9 L627.0 1012.4 L628.5 1011.9 L630.0 1011.4 L631.5 1010.9 L633.0 1010.4 L634.5 1010.0 L636.0 1009.5 L637.5 1009.0 L639.0 1008.7 L640.5 1008.4 L642.0 1008.3 L643.5 1008.1 L645.0 1007.9 L646.5 1007.7 L648.0 1007.5 L649.5 1007.4 L651.0 1007.2 L652.5 1007.0 L654.0 1007.0 L655.5 1006.9 L657.0 1006.8 L658.5 1006.6 L660.0 1006.2 L661.5 1005.9 L663.0 1005.6 L664.5 1005.3 L666.0 1005.0 L667.5 1004.8 L669.0 1004.7 L670.5 1004.8 L672.0 1005.1 L673.5 1005.4 L675.0 1005.7 L676.5 1005.5 L678.0 1004.9 L679.5 1004.3 L681.0 1003.9 L682.5 1004.2 L684.0 1005.0 L685.5 1006.1 L687.0 1007.2 L688.5 1008.0 L690.0 1008.6 L691.5 1009.0 L693.0 1009.3 L694.5 1009.6 L696.0 1009.9 L697.5 1010.1 L699.0 1010.2 L700.5 1010.4 L702.0 1010.5 L703.5 1010.5 L705.0 1010.4 L706.5 1010.0 L708.0 1009.7 L709.5 1009.3 L711.0 1008.9 L712.5 1008.6 L714.0 1008.2 L715.5 1007.8 L717.0 1007.5 L718.5 1007.1 L720.0 1006.3 L721.5 1005.3 L723.0 1004.2 L724.5 1003.1 L726.0 1002.0 L727.5 1000.9 L729.0 1000.0 L730.5 999.4 L732.0 999.1 L733.5 999.0 L735.0 998.9 L736.5 998.9 L738.0 998.8 L739.5 998.6 L741.0 998.3 L742.5 998.1 L744.0 997.8 L745.5 996.9 L747.0 995.2 L748.5 993.4 L750.0 992.1 L751.5 991.3 L753.0 990.3 L754.5 989.2 L756.0 988.1 L757.5 987.0 L759.0 986.1 L760.5 985.5 L762.0 985.3 L763.5 985.1 L765.0 984.9 L766.5 984.2 L768.0 983.0 L769.5 981.7 L771.0 980.3 L772.5 978.9 L774.0 977.5 L775.5 976.3 L777.0 975.1 L778.5 973.8 L780.0 972.5 L781.5 971.1 L783.0 969.5 L784.5 966.4 L786.0 962.0 L787.5 957.1 L789.0 952.2 L790.5 947.1 L792.0 941.8 L793.5 936.3 L795.0 930.5 L796.5 924.7 L798.0 918.3 L799.5 910.5 L801.0 900.3 L802.5 887.6 L804.0 874.3 L805.5 860.9 L807.0 847.1 L808.5 832.8 L810.0 818.1 L811.5 798.4 L813.0 772.0 L814.5 753.0 L816.0 734.6 L817.5 711.3 L819.0 682.6 L820.5 657.9 L822.0 638.7 L823.5 622.1 L825.0 607.1 L826.5 594.0 L828.0 584.5 L829.5 579.5 L831.0 578.7 L832.5 580.5 L834.0 582.2 L835.5 584.9 L837.0 592.1 L838.5 607.7 L840.0 631.8 L841.5 655.1 L843.0 675.7 L844.5 695.2 L846.0 713.0 L847.5 730.9 L849.0 748.6 L850.5 765.4 L852.0 780.7 L853.5 794.6 L855.0 806.8 L856.5 817.7 L858.0 827.4 L859.5 836.3 L861.0 844.9 L862.5 852.7 L864.0 859.5 L865.5 864.8 L867.0 869.2 L868.5 872.6 L870.0 875.3 L871.5 878.0 L873.0 881.0 L874.5 884.4 L876.0 888.0 L877.5 891.8 L879.0 895.5 L880.5 899.4 L882.0 903.2 L883.5 907.1 L885.0 911.0 L886.5 915.3 L888.0 921.0 L889.5 926.4 L891.0 930.2 L892.5 933.4 L894.0 936.1 L895.5 938.5 L897.0 940.5 L898.5 942.3 L900.0 943.9 L901.5 945.3 L903.0 946.6 L904.5 947.7 L906.0 948.7 L907.5 949.5 L909.0 950.2 L910.5 950.7 L912.0 951.0 L913.5 951.1 L915.0 951.0 L916.5 950.7 L918.0 950.2 L919.5 949.5 L921.0 948.3 L922.5 946.8 L924.0 945.1 L925.5 943.4 L927.0 941.6 L928.5 939.8 L930.0 938.0 L931.5 936.1 L933.0 934.2 L934.5 932.3 L936.0 930.4 L937.5 928.4 L939.0 926.3 L940.5 923.2 L942.0 918.6 L943.5 912.6 L945.0 905.7 L946.5 898.3 L948.0 890.9 L949.5 883.6 L951.0 876.1 L952.5 868.0 L954.0 858.8 L955.5 848.4 L957.0 837.2 L958.5 825.4 L960.0 813.0 L961.5 794.9 L963.0 774.1 L964.5 751.6 L966.0 733.9 L967.5 717.7 L969.0 698.3 L970.5 678.3 L972.0 661.2 L973.5 644.9 L975.0 628.7 L976.5 612.2 L978.0 596.1 L979.5 584.3 L981.0 569.2 L982.5 554.4 L984.0 541.5 L985.5 530.0 L987.0 520.7 L988.5 515.0 L990.0 514.0 L991.5 515.9 L993.0 519.3 L994.5 523.3 L996.0 527.3 L997.5 530.9 L999.0 534.4 L1000.5 537.8 L1002.0 541.1 L1003.5 544.3 L1005.0 547.1 L1006.5 549.3 L1008.0 550.7 L1009.5 551.2 L1011.0 550.6 L1012.5 549.8 L1014.0 549.1 L1015.5 546.8 L1017.0 541.8 L1018.5 535.2 L1020.0 528.7 L1021.5 524.0 L1023.0 519.8 L1024.5 513.5 L1026.0 504.7 L1027.5 496.0 L1029.0 487.5 L1030.5 479.5 L1032.0 473.7 L1033.5 469.9 L1035.0 467.9 L1036.5 467.3 L1038.0 468.0 L1039.5 470.7 L1041.0 475.9 L1042.5 484.0 L1044.0 494.5 L1045.5 514.3 L1047.0 533.1 L1048.5 546.0 L1050.0 558.8 L1051.5 571.5 L1053.0 585.7 L1054.5 601.0 L1056.0 616.5 L1057.5 633.3 L1059.0 650.2 L1060.5 667.3 L1062.0 684.8 L1063.5 702.3 L1065.0 719.9 L1066.5 737.1 L1068.0 751.8 L1069.5 763.9 L1071.0 776.6 L1072.5 790.0 L1074.0 803.1 L1075.5 814.4 L1077.0 823.4 L1078.5 831.8 L1080.0 839.9 L1081.5 846.9 L1083.0 852.5 L1084.5 857.4 L1086.0 862.5 L1087.5 867.5 L1089.0 872.5 L1090.5 877.1 L1092.0 881.3 L1093.5 885.0 L1095.0 888.2 L1096.5 890.9 L1098.0 893.2 L1099.5 895.1 L1101.0 897.4 L1102.5 900.4 L1104.0 903.7 L1105.5 906.7 L1107.0 908.5 L1108.5 910.1 L1110.0 911.6 L1111.5 912.9 L1113.0 913.9 L1114.5 914.8 L1116.0 915.4 L1117.5 915.9 L1119.0 916.1 L1120.5 916.2 L1122.0 916.1 L1123.5 916.0 L1125.0 915.7 L1126.5 915.2 L1128.0 914.5 L1129.5 913.4 L1131.0 911.8 L1132.5 909.8 L1134.0 907.2 L1135.5 904.3 L1137.0 901.1 L1138.5 897.7 L1140.0 894.2 L1141.5 890.3 L1143.0 886.5 L1144.5 883.6 L1146.0 882.6 L1147.5 882.4 L1149.0 881.5 L1150.5 878.5 L1152.0 874.6 L1153.5 870.3 L1155.0 865.8 L1156.5 861.0 L1158.0 856.0 L1159.5 851.2 L1161.0 846.9 L1162.5 843.6 L1164.0 840.5 L1165.5 837.0 L1167.0 831.8 L1168.5 823.7 L1170.0 815.2 L1171.5 808.9 L1173.0 804.1 L1174.5 799.5 L1176.0 795.1 L1177.5 790.9 L1179.0 786.8 L1180.5 782.9 L1182.0 779.5 L1183.5 776.9 L1185.0 775.3 L1186.5 774.4 L1188.0 774.1 L1189.5 774.2 L1191.0 774.4 L1192.5 774.5 L1194.0 774.9 L1195.5 775.9 L1197.0 777.9 L1198.5 781.2 L1200.0 784.8 L1201.5 788.6 L1203.0 792.3 L1204.5 795.7 L1206.0 799.1 L1207.5 802.4 L1209.0 805.6 L1210.5 808.5 L1212.0 810.6 L1213.5 812.2 L1215.0 813.8 L1216.5 815.8 L1218.0 818.6 L1219.5 821.6 L1221.0 824.6 L1222.5 827.6 L1224.0 830.6 L1225.5 833.6 L1227.0 836.6 L1228.5 839.7 L1230.0 842.8 L1231.5 845.8 L1233.0 848.7 L1234.5 851.2 L1236.0 853.0 L1237.5 854.3 L1239.0 854.9 L1240.5 855.0 L1242.0 854.6 L1243.5 854.0 L1245.0 853.3 L1246.5 852.4 L1248.0 851.3 L1249.5 850.2 L1251.0 848.9 L1252.5 847.6 L1254.0 846.2 L1255.5 844.9 L1257.0 843.6 L1258.5 842.3 L1260.0 841.0 L1261.5 839.7 L1263.0 838.4 L1264.5 837.2 L1266.0 835.9 L1267.5 834.6 L1269.0 833.4 L1270.5 832.5 L1272.0 831.9 L1273.5 831.5 L1275.0 831.2 L1276.5 830.9 L1278.0 830.7 L1279.5 830.7 L1281.0 830.9 L1282.5 831.2 L1284.0 831.9 L1285.5 832.9 L1287.0 834.0 L1288.5 835.3 L1290.0 836.6 L1291.5 838.0 L1293.0 839.3 L1294.5 840.8 L1296.0 842.2 L1297.5 843.8 L1299.0 845.5 L1300.5 848.0 L1302.0 851.0 L1303.5 854.0 L1305.0 856.4 L1306.5 858.3 L1308.0 860.9 L1309.5 864.0 L1311.0 867.3 L1312.5 871.5 L1314.0 874.8 L1315.5 878.3 L1317.0 882.2 L1318.5 886.3 L1320.0 889.9 L1321.5 893.0 L1323.0 895.6 L1324.5 897.3 L1326.0 898.2 L1327.5 898.3 L1329.0 898.1 L1330.5 897.7 L1332.0 897.1 L1333.5 896.4 L1335.0 895.6 L1336.5 894.7 L1338.0 893.7 L1339.5 892.7 L1341.0 891.4 L1342.5 890.1 L1344.0 888.6 L1345.5 887.0 L1347.0 885.1 L1348.5 882.6 L1350.0 879.6 L1351.5 876.0 L1353.0 871.9 L1354.5 867.3 L1356.0 862.3 L1357.5 856.7 L1359.0 850.3 L1360.5 843.4 L1362.0 836.2 L1363.5 829.0 L1365.0 822.4 L1366.5 816.2 L1368.0 810.1 L1369.5 803.8 L1371.0 797.2 L1372.5 790.5 L1374.0 783.6 L1375.5 776.5 L1377.0 769.0 L1378.5 760.3 L1380.0 750.9 L1381.5 741.6 L1383.0 731.5 L1384.5 720.7 L1386.0 710.9 L1387.5 702.7 L1389.0 695.9 L1390.5 688.8 L1392.0 680.1 L1393.5 670.7 L1395.0 660.8 L1396.5 650.4 L1398.0 640.0 L1399.5 630.4 L1401.0 622.3 L1402.5 615.1 L1404.0 607.7 L1405.5 600.6 L1407.0 594.1 L1408.5 588.8 L1410.0 584.7 L1411.5 581.4 L1413.0 578.5 L1414.5 576.2 L1416.0 574.8 L1417.5 574.0 L1419.0 573.7 L1420.5 573.6 L1422.0 573.7 L1423.5 574.3 L1425.0 575.5 L1426.5 577.3 L1428.0 579.4 L1429.5 582.1 L1431.0 585.9 L1432.5 590.9 L1434.0 596.7 L1435.5 603.7 L1437.0 612.1 L1438.5 621.2 L1440.0 630.2 L1441.5 638.9 L1443.0 647.7 L1444.5 657.2 L1446.0 666.8 L1447.5 677.1 L1449.0 687.7 L1450.5 698.1 L1452.0 707.5 L1453.5 716.0 L1455.0 724.8 L1456.5 734.4 L1458.0 744.3 L1459.5 754.0 L1461.0 763.1 L1462.5 771.0 L1464.0 778.4 L1465.5 785.7 L1467.0 793.1 L1468.5 800.8 L1470.0 808.5 L1471.5 816.0 L1473.0 823.3 L1474.5 830.4 L1476.0 837.2 L1477.5 844.0 L1479.0 850.8 L1480.5 857.4 L1482.0 863.7 L1483.5 869.4 L1485.0 874.7 L1486.5 879.7 L1488.0 884.5 L1489.5 889.3 L1491.0 893.8 L1492.5 898.1 L1494.0 902.0 L1495.5 905.5 L1497.0 908.5 L1498.5 911.2 L1500.0 913.9 L1501.5 916.8 L1503.0 920.1 L1504.5 923.8 L1506.0 927.9 L1507.5 932.1 L1509.0 936.4 L1510.5 940.7 L1512.0 944.8 L1513.5 948.6 L1515.0 952.0 L1516.5 955.1 L1518.0 957.8 L1519.5 960.2 L1521.0 962.2 L1522.5 963.8 L1524.0 965.1 L1525.5 966.3 L1527.0 967.4 L1528.5 968.6 L1530.0 969.9 L1531.5 971.6 L1533.0 973.6 L1534.5 975.6 L1536.0 977.5 L1537.5 978.9 L1539.0 979.7 L1540.5 979.8 L1542.0 979.5 L1543.5 979.1 L1545.0 978.9 L1546.5 979.1 L1548.0 980.1 L1549.5 982.1 L1551.0 984.7 L1552.5 987.3 L1554.0 989.3 L1555.5 990.4 L1557.0 990.9 L1558.5 991.5 L1560.0 992.0 L1561.5 992.5 L1563.0 993.0 L1564.5 993.4 L1566.0 993.8 L1567.5 994.1 L1569.0 994.4 L1570.5 994.7 L1572.0 995.0 L1573.5 994.8 L1575.0 992.5 L1576.5 989.1 L1578.0 985.8 L1579.5 984.1 L1581.0 985.3 L1582.5 989.0 L1584.0 993.6 L1585.5 997.6 L1587.0 999.3 L1588.5 999.3 L1590.0 998.7 L1591.5 998.1 L1593.0 998.3 L1594.5 999.4 L1596.0 1000.9 L1597.5 1002.6 L1599.0 1004.3 L1600.5 1005.8 L1602.0 1007.0 L1603.5 1007.8 L1605.0 1008.4 L1606.5 1008.9 L1608.0 1009.2 L1609.5 1009.0 L1611.0 1008.2 L1612.5 1006.9 L1614.0 1005.5 L1615.5 1004.4 L1617.0 1004.0 L1618.5 1004.6 L1620.0 1006.6 L1621.5 1009.2 L1623.0 1011.8 L1624.5 1013.8 L1626.0 1014.6 L1627.5 1014.6 L1629.0 1013.9 L1630.5 1012.7 L1632.0 1011.5 L1633.5 1010.6 L1635.0 1010.3 L1636.5 1011.0 L1638.0 1012.2 L1639.5 1013.9 L1641.0 1015.6 L1642.5 1017.1 L1644.0 1018.3 L1645.5 1018.7 L1647.0 1018.4 L1648.5 1017.5 L1650.0 1016.3 L1651.5 1014.9 L1653.0 1013.4 L1654.5 1012.1 L1656.0 1011.0 L1657.5 1010.4 L1659.0 1010.1 L1660.5 1010.0 L1662.0 1010.2"/>
<path class="c" stroke="#000080" d="M358.5 1014.5 L360.0 1014.5 L361.5 1014.6 L363.0 1014.6 L364.5 1014.6 L366.0 1014.7 L367.5 1014.7 L369.0 1014.8 L370.5 1014.8 L372.0 1014.9 L373.5 1014.9 L375.0 1015.0 L376.5 1015.1 L378.0 1015.2 L379.5 1015.3 L381.0 1015.4 L382.5 1015.5 L384.0 1015.6 L385.5 1015.7 L387.0 1015.8 L388.5 1015.9 L390.0 1016.0 L391.5 1016.1 L393.0 1016.3 L394.5 1016.5 L396.0 1016.6 L397.5 1016.8 L399.0 1017.0 L400.5 1017.2 L402.0 1017.4 L403.5 1017.6 L405.0 1017.8 L406.5 1018.0 L408.0 1018.2 L409.5 1018.4 L411.0 1018.6 L412.5 1018.7 L414.0 1018.9 L415.5 1019.0 L417.0 1019.0 L418.5 1019.0 L420.0 1018.9 L421.5 1018.8 L423.0 1018.7 L424.5 1018.5 L426.0 1018.3 L427.5 1018.2 L429.0 1018.0 L430.5 1017.8 L432.0 1017.7 L433.5 1017.5 L435.0 1017.5 L436.5 1017.4 L438.0 1017.5 L439.5 1017.7 L441.0 1017.9 L442.5 1018.3 L444.0 1018.6 L445.5 1019.0 L447.0 1019.4 L448.5 1019.9 L450.0 1020.3 L451.5 1020.7 L453.0 1021.1 L454.5 1021.4 L456.0 1021.8 L457.5 1022.0 L459.0 1022.2 L460.5 1022.3 L462.0 1022.2 L463.5 1022.1 L465.0 1021.9 L466.5 1021.6 L468.0 1021.4 L469.5 1021.1 L471.0 1020.8 L472.5 1020.5 L474.0 1020.2 L475.5 1019.9 L477.0 1019.5 L478.5 1019.2 L480.0 1018.8 L481.5 1018.5 L483.0 1018.1 L484.5 1017.8 L486.0 1017.4 L487.5 1017.1 L489.0 1016.8 L490.5 1016.5 L492.0 1016.3 L493.5 1016.2 L495.0 1016.0 L496.5 1015.9 L498.0 1015.8 L499.5 1015.7 L501.0 1015.6 L502.5 1015.5 L504.0 1015.4 L505.5 1015.4 L507.0 1015.4 L508.5 1015.3 L510.0 1015.3 L511.5 1015.3 L513.0 1015.3 L514.5 1015.3 L516.0 1015.2 L517.5 1015.2 L519.0 1015.2 L520.5 1015.2 L522.0 1015.2 L523.5 1015.2 L525.0 1015.1 L526.5 1015.1 L528.0 1015.1 L529.5 1015.1 L531.0 1015.1 L532.5 1015.0 L534.0 1015.0 L535.5 1015.0 L537.0 1015.0 L538.5 1014.9 L540.0 1014.9 L541.5 1014.9 L543.0 1014.8 L544.5 1014.8 L546.0 1014.7 L547.5 1014.7 L549.0 1014.6 L550.5 1014.5 L552.0 1014.5 L553.5 1014.4 L555.0 1014.4 L556.5 1014.3 L558.0 1014.3 L559.5 1014.2 L561.0 1014.2 L562.5 1014.1 L564.0 1014.0 L565.5 1014.0 L567.0 1013.9 L568.5 1013.8 L570.0 1013.7 L571.5 1013.6 L573.0 1013.5 L574.5 1013.4 L576.0 1013.3 L577.5 1013.2 L579.0 1013.1 L580.5 1013.0 L582.0 1012.9 L583.5 1012.8 L585.0 1012.7 L586.5 1012.6 L588.0 1012.5 L589.5 1012.5 L591.0 1012.4 L592.5 1012.5 L594.0 1012.5 L595.5 1012.7 L597.0 1012.8 L598.5 1012.9 L600.0 1013.0 L601.5 1013.1 L603.0 1013.2 L604.5 1013.2 L606.0 1013.2 L607.5 1013.3 L609.0 1013.3 L610.5 1013.2 L612.0 1013.2 L613.5 1013.1 L615.0 1012.9 L616.5 1012.7 L618.0 1012.5 L619.5 1012.2 L621.0 1011.8 L622.5 1011.3 L624.0 1010.8 L625.5 1010.3 L627.0 1009.7 L628.5 1009.1 L630.0 1008.6 L631.5 1008.0 L633.0 1007.4 L634.5 1006.9 L636.0 1006.4 L637.5 1005.9 L639.0 1005.4 L640.5 1005.1 L642.0 1004.8 L643.5 1004.5 L645.0 1004.2 L646.5 1003.9 L648.0 1003.6 L649.5 1003.3 L651.0 1003.0 L652.5 1002.7 L654.0 1002.5 L655.5 1002.3 L657.0 1002.0 L658.5 1001.7 L660.0 1001.4 L661.5 1001.0 L663.0 1000.7 L664.5 1000.3 L666.0 1000.0 L667.5 999.7 L669.0 999.6 L670.5 999.8 L672.0 1000.2 L673.5 1000.6 L675.0 1000.8 L676.5 1000.6 L678.0 999.9 L679.5 999.2 L681.0 998.9 L682.5 999.2 L684.0 1000.1 L685.5 1001.1 L687.0 1002.2 L688.5 1003.1 L690.0 1003.7 L691.5 1004.1 L693.0 1004.4 L694.5 1004.7 L696.0 1005.0 L697.5 1005.3 L699.0 1005.4 L700.5 1005.6 L702.0 1005.6 L703.5 1005.6 L705.0 1005.4 L706.5 1005.1 L708.0 1004.7 L709.5 1004.3 L711.0 1004.0 L712.5 1003.6 L714.0 1003.2 L715.5 1002.9 L717.0 1002.5 L718.5 1002.1 L720.0 1001.5 L721.5 1000.7 L723.0 999.8 L724.5 999.0 L726.0 998.2 L727.5 997.3 L729.0 996.6 L730.5 996.3 L732.0 996.3 L733.5 996.5 L735.0 996.8 L736.5 997.0 L738.0 997.1 L739.5 997.2 L741.0 997.1 L742.5 997.1 L744.0 997.1 L745.5 996.6 L747.0 995.6 L748.5 994.5 L750.0 993.7 L751.5 993.2 L753.0 992.5 L754.5 991.6 L756.0 990.6 L757.5 989.7 L759.0 989.1 L760.5 988.8 L762.0 989.0 L763.5 989.3 L765.0 989.5 L766.5 989.2 L768.0 988.4 L769.5 987.5 L771.0 986.5 L772.5 985.6 L774.0 984.6 L775.5 983.7 L777.0 982.8 L778.5 981.9 L780.0 981.0 L781.5 980.0 L783.0 978.8 L784.5 976.7 L786.0 974.0 L787.5 970.9 L789.0 967.9 L790.5 964.8 L792.0 961.7 L793.5 958.5 L795.0 955.0 L796.5 951.3 L798.0 947.1 L799.5 942.0 L801.0 935.5 L802.5 927.3 L804.0 918.9 L805.5 910.2 L807.0 901.3 L808.5 892.2 L810.0 882.9 L811.5 870.9 L813.0 855.1 L814.5 841.2 L816.0 825.7 L817.5 806.3 L819.0 784.1 L820.5 765.9 L822.0 751.4 L823.5 738.0 L825.0 725.0 L826.5 712.5 L828.0 702.1 L829.5 694.7 L831.0 690.1 L832.5 687.9 L834.0 687.4 L835.5 688.4 L837.0 692.1 L838.5 700.1 L840.0 711.8 L841.5 721.4 L843.0 728.6 L844.5 736.1 L846.0 744.7 L847.5 755.0 L849.0 767.1 L850.5 780.0 L852.0 793.9 L853.5 808.0 L855.0 820.8 L856.5 832.1 L858.0 842.7 L859.5 852.7 L861.0 861.7 L862.5 869.2 L864.0 874.9 L865.5 878.8 L867.0 881.5 L868.5 883.9 L870.0 886.2 L871.5 888.9 L873.0 892.3 L874.5 896.1 L876.0 900.1 L877.5 904.1 L879.0 908.1 L880.5 912.1 L882.0 916.1 L883.5 920.0 L885.0 923.9 L886.5 928.1 L888.0 934.0 L889.5 939.5 L891.0 942.8 L892.5 945.6 L894.0 947.9 L895.5 949.8 L897.0 951.4 L898.5 952.8 L900.0 954.0 L901.5 955.0 L903.0 955.9 L904.5 956.8 L906.0 957.6 L907.5 958.3 L909.0 958.9 L910.5 959.4 L912.0 959.7 L913.5 959.8 L915.0 959.7 L916.5 959.5 L918.0 959.1 L919.5 958.5 L921.0 957.7 L922.5 956.6 L924.0 955.4 L925.5 954.2 L927.0 952.9 L928.5 951.6 L930.0 950.3 L931.5 949.0 L933.0 947.6 L934.5 946.2 L936.0 944.7 L937.5 943.2 L939.0 941.5 L940.5 939.2 L942.0 935.4 L943.5 930.5 L945.0 924.9 L946.5 919.1 L948.0 913.6 L949.5 908.6 L951.0 903.5 L952.5 898.1 L954.0 891.7 L955.5 884.0 L957.0 875.6 L958.5 866.6 L960.0 857.1 L961.5 847.1 L963.0 836.7 L964.5 825.4 L966.0 812.9 L967.5 800.0 L969.0 787.0 L970.5 773.9 L972.0 760.7 L973.5 747.5 L975.0 734.2 L976.5 718.5 L978.0 703.0 L979.5 688.4 L981.0 677.1 L982.5 669.6 L984.0 661.3 L985.5 647.9 L987.0 631.0 L988.5 619.6 L990.0 613.4 L991.5 607.6 L993.0 601.7 L994.5 595.3 L996.0 589.5 L997.5 584.8 L999.0 580.3 L1000.5 575.3 L1002.0 569.3 L1003.5 562.9 L1005.0 556.9 L1006.5 551.9 L1008.0 547.3 L1009.5 542.6 L1011.0 537.5 L1012.5 531.8 L1014.0 526.0 L1015.5 519.8 L1017.0 511.7 L1018.5 499.3 L1020.0 481.0 L1021.5 461.6 L1023.0 449.5 L1024.5 440.3 L1026.0 432.7 L1027.5 423.7 L1029.0 406.8 L1030.5 390.8 L1032.0 378.0 L1033.5 362.9 L1035.0 352.0 L1036.5 348.9 L1038.0 346.9 L1039.5 347.5 L1041.0 351.5 L1042.5 361.0 L1044.0 375.6 L1045.5 392.3 L1047.0 410.4 L1048.5 428.2 L1050.0 446.4 L1051.5 469.2 L1053.0 490.0 L1054.5 506.6 L1056.0 526.3 L1057.5 548.0 L1059.0 570.2 L1060.5 592.5 L1062.0 614.9 L1063.5 637.0 L1065.0 658.3 L1066.5 678.4 L1068.0 695.2 L1069.5 708.9 L1071.0 722.7 L1072.5 736.9 L1074.0 751.0 L1075.5 764.3 L1077.0 777.3 L1078.5 790.1 L1080.0 802.3 L1081.5 812.4 L1083.0 820.0 L1084.5 826.5 L1086.0 833.2 L1087.5 840.0 L1089.0 846.5 L1090.5 852.8 L1092.0 858.6 L1093.5 863.7 L1095.0 868.1 L1096.5 872.0 L1098.0 875.4 L1099.5 878.3 L1101.0 881.3 L1102.5 885.6 L1104.0 890.8 L1105.5 895.8 L1107.0 898.9 L1108.5 901.4 L1110.0 903.6 L1111.5 905.4 L1113.0 907.0 L1114.5 908.2 L1116.0 909.3 L1117.5 910.1 L1119.0 910.9 L1120.5 911.6 L1122.0 912.2 L1123.5 912.6 L1125.0 912.9 L1126.5 913.0 L1128.0 912.9 L1129.5 912.6 L1131.0 912.1 L1132.5 911.4 L1134.0 910.5 L1135.5 909.3 L1137.0 907.1 L1138.5 904.2 L1140.0 901.4 L1141.5 899.5 L1143.0 898.9 L1144.5 898.9 L1146.0 899.2 L1147.5 899.3 L1149.0 898.8 L1150.5 897.3 L1152.0 895.2 L1153.5 892.8 L1155.0 890.0 L1156.5 886.7 L1158.0 883.2 L1159.5 879.7 L1161.0 876.0 L1162.5 872.3 L1164.0 868.5 L1165.5 864.5 L1167.0 860.3 L1168.5 855.9 L1170.0 851.6 L1171.5 847.3 L1173.0 843.3 L1174.5 839.7 L1176.0 836.3 L1177.5 833.2 L1179.0 830.3 L1180.5 827.6 L1182.0 825.2 L1183.5 823.1 L1185.0 821.4 L1186.5 820.0 L1188.0 818.9 L1189.5 818.3 L1191.0 818.0 L1192.5 818.1 L1194.0 818.4 L1195.5 818.7 L1197.0 819.3 L1198.5 820.1 L1200.0 821.3 L1201.5 822.9 L1203.0 824.7 L1204.5 826.6 L1206.0 828.4 L1207.5 830.0 L1209.0 831.3 L1210.5 832.5 L1212.0 833.7 L1213.5 834.9 L1215.0 836.3 L1216.5 837.8 L1218.0 839.6 L1219.5 841.7 L1221.0 844.4 L1222.5 847.4 L1224.0 850.5 L1225.5 853.7 L1227.0 857.0 L1228.5 860.4 L1230.0 863.8 L1231.5 866.9 L1233.0 869.5 L1234.5 871.5 L1236.0 872.9 L1237.5 873.7 L1239.0 874.1 L1240.5 874.4 L1242.0 874.7 L1243.5 874.8 L1245.0 874.9 L1246.5 874.9 L1248.0 874.9 L1249.5 874.9 L1251.0 874.9 L1252.5 874.7 L1254.0 874.5 L1255.5 873.9 L1257.0 873.2 L1258.5 872.4 L1260.0 871.4 L1261.5 870.4 L1263.0 869.4 L1264.5 868.3 L1266.0 867.1 L1267.5 865.9 L1269.0 864.7 L1270.5 863.6 L1272.0 862.6 L1273.5 861.8 L1275.0 861.2 L1276.5 860.7 L1278.0 860.4 L1279.5 860.1 L1281.0 859.9 L1282.5 859.7 L1284.0 859.6 L1285.5 859.4 L1287.0 859.4 L1288.5 859.4 L1290.0 859.5 L1291.5 859.7 L1293.0 860.0 L1294.5 860.4 L1296.0 861.1 L1297.5 862.1 L1299.0 863.2 L1300.5 863.9 L1302.0 864.3 L1303.5 864.7 L1305.0 864.9 L1306.5 864.8 L1308.0 864.2 L1309.5 863.7 L1311.0 865.1 L1312.5 868.2 L1314.0 872.3 L1315.5 876.0 L1317.0 878.9 L1318.5 882.1 L1320.0 884.9 L1321.5 887.1 L1323.0 888.8 L1324.5 889.8 L1326.0 889.8 L1327.5 889.1 L1329.0 888.1 L1330.5 886.9 L1332.0 885.5 L1333.5 884.0 L1335.0 882.5 L1336.5 880.9 L1338.0 879.2 L1339.5 877.5 L1341.0 875.6 L1342.5 873.5 L1344.0 871.3 L1345.5 869.0 L1347.0 866.3 L1348.5 862.9 L1350.0 858.7 L1351.5 853.9 L1353.0 848.4 L1354.5 842.4 L1356.0 835.9 L1357.5 829.0 L1359.0 821.5 L1360.5 813.4 L1362.0 805.0 L1363.5 796.2 L1365.0 787.7 L1366.5 779.2 L1368.0 770.6 L1369.5 761.5 L1371.0 751.8 L1372.5 741.7 L1374.0 731.4 L1375.5 720.7 L1377.0 709.3 L1378.5 697.1 L1380.0 684.4 L1381.5 672.0 L1383.0 658.5 L1384.5 643.9 L1386.0 629.7 L1387.5 616.6 L1389.0 605.4 L1390.5 594.7 L1392.0 584.1 L1393.5 573.2 L1395.0 561.6 L1396.5 549.0 L1398.0 535.7 L1399.5 523.1 L1401.0 512.4 L1402.5 502.8 L1404.0 493.2 L1405.5 484.0 L1407.0 475.8 L1408.5 469.1 L1410.0 463.8 L1411.5 459.5 L1413.0 455.8 L1414.5 452.9 L1416.0 451.1 L1417.5 450.2 L1419.0 450.0 L1420.5 450.4 L1422.0 451.7 L1423.5 454.1 L1425.0 457.7 L1426.5 462.3 L1428.0 467.3 L1429.5 472.9 L1431.0 479.5 L1432.5 487.3 L1434.0 495.6 L1435.5 504.1 L1437.0 512.4 L1438.5 520.6 L1440.0 528.9 L1441.5 538.0 L1443.0 548.6 L1444.5 560.0 L1446.0 571.6 L1447.5 584.0 L1449.0 596.8 L1450.5 609.3 L1452.0 620.7 L1453.5 631.0 L1455.0 641.4 L1456.5 652.0 L1458.0 662.6 L1459.5 673.2 L1461.0 683.6 L1462.5 693.8 L1464.0 703.9 L1465.5 713.9 L1467.0 724.0 L1468.5 733.9 L1470.0 743.6 L1471.5 753.1 L1473.0 762.5 L1474.5 771.9 L1476.0 781.6 L1477.5 791.4 L1479.0 801.1 L1480.5 810.2 L1482.0 818.4 L1483.5 825.6 L1485.0 832.2 L1486.5 838.4 L1488.0 844.6 L1489.5 850.6 L1491.0 856.4 L1492.5 862.0 L1494.0 867.2 L1495.5 871.9 L1497.0 876.3 L1498.5 880.4 L1500.0 884.6 L1501.5 888.8 L1503.0 893.3 L1504.5 898.1 L1506.0 903.1 L1507.5 908.2 L1509.0 913.4 L1510.5 918.6 L1512.0 923.7 L1513.5 928.5 L1515.0 932.8 L1516.5 936.7 L1518.0 940.2 L1519.5 943.2 L1521.0 945.8 L1522.5 947.9 L1524.0 949.6 L1525.5 951.2 L1527.0 952.7 L1528.5 954.4 L1530.0 956.2 L1531.5 958.5 L1533.0 961.2 L1534.5 963.9 L1536.0 966.5 L1537.5 968.6 L1539.0 969.9 L1540.5 970.3 L1542.0 970.1 L1543.5 969.8 L1545.0 969.7 L1546.5 970.0 L1548.0 971.2 L1549.5 973.5 L1551.0 976.4 L1552.5 979.2 L1554.0 981.5 L1555.5 982.7 L1557.0 983.3 L1558.5 983.9 L1560.0 984.5 L1561.5 985.1 L1563.0 985.7 L1564.5 986.2 L1566.0 986.7 L1567.5 987.2 L1569.0 987.7 L1570.5 988.1 L1572.0 988.5 L1573.5 988.5 L1575.0 986.3 L1576.5 982.8 L1578.0 979.6 L1579.5 978.1 L1581.0 979.6 L1582.5 983.7 L1584.0 988.8 L1585.5 992.9 L1587.0 994.5 L1588.5 994.5 L1590.0 993.9 L1591.5 993.4 L1593.0 993.9 L1594.5 995.1 L1596.0 996.6 L1597.5 998.3 L1599.0 999.9 L1600.5 1001.4 L1602.0 1002.6 L1603.5 1003.4 L1605.0 1004.2 L1606.5 1004.8 L1608.0 1005.3 L1609.5 1005.0 L1611.0 1004.1 L1612.5 1002.7 L1614.0 1001.2 L1615.5 1000.1 L1617.0 999.6 L1618.5 1000.5 L1620.0 1002.8 L1621.5 1005.7 L1623.0 1008.5 L1624.5 1010.6 L1626.0 1011.4 L1627.5 1011.2 L1629.0 1010.3 L1630.5 1009.1 L1632.0 1007.9 L1633.5 1007.0 L1635.0 1006.8 L1636.5 1007.5 L1638.0 1008.9 L1639.5 1010.7 L1641.0 1012.5 L1642.5 1014.2 L1644.0 1015.3 L1645.5 1015.7 L1647.0 1015.3 L1648.5 1014.3 L1650.0 1013.0 L1651.5 1011.5 L1653.0 1010.0 L1654.5 1008.6 L1656.0 1007.5 L1657.5 1006.8 L1659.0 1006.6 L1660.5 1006.6 L1662.0 1006.9"/>
<path class="c" stroke="#800000" d="M358.5 1013.0 L360.0 1013.0 L361.5 1013.1 L363.0 1013.1 L364.5 1013.1 L366.0 1013.2 L367.5 1013.2 L369.0 1013.3 L370.5 1013.3 L372.0 1013.4 L373.5 1013.4 L375.0 1013.5 L376.5 1013.6 L378.0 1013.7 L379.5 1013.8 L381.0 1013.8 L382.5 1014.0 L384.0 1014.1 L385.5 1014.2 L387.0 1014.3 L388.5 1014.4 L390.0 1014.5 L391.5 1014.6 L393.0 1014.8 L394.5 1014.9 L396.0 1015.1 L397.5 1015.3 L399.0 1015.5 L400.5 1015.7 L402.0 1015.9 L403.5 1016.1 L405.0 1016.3 L406.5 1016.5 L408.0 1016.7 L409.5 1016.9 L411.0 1017.1 L412.5 1017.2 L414.0 1017.4 L415.5 1017.5 L417.0 1017.6 L418.5 1017.5 L420.0 1017.5 L421.5 1017.4 L423.0 1017.2 L424.5 1017.0 L426.0 1016.9 L427.5 1016.7 L429.0 1016.5 L430.5 1016.3 L432.0 1016.2 L433.5 1016.0 L435.0 1015.9 L436.5 1015.9 L438.0 1016.0 L439.5 1016.1 L441.0 1016.4 L442.5 1016.7 L444.0 1017.1 L445.5 1017.5 L447.0 1018.0 L448.5 1018.4 L450.0 1018.9 L451.5 1019.3 L453.0 1019.7 L454.5 1020.1 L456.0 1020.4 L457.5 1020.6 L459.0 1020.8 L460.5 1020.8 L462.0 1020.8 L463.5 1020.6 L465.0 1020.4 L466.5 1020.1 L468.0 1019.9 L469.5 1019.6 L471.0 1019.3 L472.5 1019.0 L474.0 1018.7 L475.5 1018.4 L477.0 1018.1 L478.5 1017.7 L480.0 1017.3 L481.5 1017.0 L483.0 1016.6 L484.5 1016.2 L486.0 1015.9 L487.5 1015.6 L489.0 1015.3 L490.5 1015.0 L492.0 1014.8 L493.5 1014.6 L495.0 1014.5 L496.5 1014.4 L498.0 1014.2 L499.5 1014.1 L501.0 1014.1 L502.5 1014.0 L504.0 1013.9 L505.5 1013.9 L507.0 1013.9 L508.5 1013.8 L510.0 1013.8 L511.5 1013.8 L513.0 1013.8 L514.5 1013.8 L516.0 1013.7 L517.5 1013.7 L519.0 1013.7 L520.5 1013.7 L522.0 1013.7 L523.5 1013.7 L525.0 1013.7 L526.5 1013.6 L528.0 1013.6 L529.5 1013.6 L531.0 1013.6 L532.5 1013.6 L534.0 1013.5 L535.5 1013.5 L537.0 1013.5 L538.5 1013.4 L540.0 1013.4 L541.5 1013.4 L543.0 1013.3 L544.5 1013.3 L546.0 1013.2 L547.5 1013.2 L549.0 1013.1 L550.5 1013.1 L552.0 1013.0 L553.5 1012.9 L555.0 1012.9 L556.5 1012.8 L558.0 1012.8 L559.5 1012.7 L561.0 1012.7 L562.5 1012.6 L564.0 1012.5 L565.5 1012.5 L567.0 1012.4 L568.5 1012.3 L570.0 1012.2 L571.5 1012.1 L573.0 1012.0 L574.5 1011.9 L576.0 1011.8 L577.5 1011.7 L579.0 1011.6 L580.5 1011.5 L582.0 1011.4 L583.5 1011.3 L585.0 1011.2 L586.5 1011.1 L588.0 1011.0 L589.5 1010.9 L591.0 1010.9 L592.5 1010.9 L594.0 1011.0 L595.5 1011.2 L597.0 1011.3 L598.5 1011.4 L600.0 1011.5 L601.5 1011.5 L603.0 1011.6 L604.5 1011.6 L606.0 1011.6 L607.5 1011.5 L609.0 1011.5 L610.5 1011.4 L612.0 1011.2 L613.5 1011.1 L615.0 1010.9 L616.5 1010.6 L618.0 1010.2 L619.5 1009.8 L621.0 1009.4 L622.5 1008.8 L624.0 1008.2 L625.5 1007.6 L627.0 1007.0 L628.5 1006.4 L630.0 1005.7 L631.5 1005.1 L633.0 1004.5 L634.5 1003.8 L636.0 1003.3 L637.5 1002.7 L639.0 1002.2 L640.5 1001.8 L642.0 1001.3 L643.5 1000.9 L645.0 1000.5 L646.5 1000.0 L648.0 999.6 L649.5 999.2 L651.0 998.8 L652.5 998.4 L654.0 998.0 L655.5 997.6 L657.0 997.3 L658.5 996.9 L660.0 996.5 L661.5 996.1 L663.0 995.7 L664.5 995.3 L666.0 995.0 L667.5 994.7 L669.0 994.6 L670.5 994.8 L672.0 995.2 L673.5 995.7 L675.0 995.9 L676.5 995.6 L678.0 994.9 L679.5 994.2 L681.0 993.9 L682.5 994.3 L684.0 995.1 L685.5 996.2 L687.0 997.3 L688.5 998.2 L690.0 998.8 L691.5 999.2 L693.0 999.5 L694.5 999.9 L696.0 1000.2 L697.5 1000.4 L699.0 1000.6 L700.5 1000.7 L702.0 1000.8 L703.5 1000.7 L705.0 1000.5 L706.5 1000.1 L708.0 999.8 L709.5 999.4 L711.0 999.0 L712.5 998.7 L714.0 998.3 L715.5 997.9 L717.0 997.6 L718.5 997.2 L720.0 996.7 L721.5 996.1 L723.0 995.5 L724.5 994.9 L726.0 994.3 L727.5 993.7 L729.0 993.2 L730.5 993.2 L732.0 993.4 L733.5 993.9 L735.0 994.5 L736.5 995.0 L738.0 995.4 L739.5 995.6 L741.0 995.8 L742.5 996.0 L744.0 996.2 L745.5 996.2 L747.0 996.0 L748.5 995.8 L750.0 995.6 L751.5 995.5 L753.0 995.1 L754.5 994.4 L756.0 993.6 L757.5 993.0 L759.0 992.6 L760.5 992.7 L762.0 993.4 L763.5 994.2 L765.0 994.9 L766.5 995.0 L768.0 994.6 L769.5 994.0 L771.0 993.4 L772.5 992.8 L774.0 992.2 L775.5 991.5 L777.0 990.9 L778.5 990.1 L780.0 989.4 L781.5 988.6 L783.0 987.8 L784.5 986.6 L786.0 985.2 L787.5 983.7 L789.0 982.2 L790.5 980.7 L792.0 979.4 L793.5 978.0 L795.0 976.4 L796.5 974.4 L798.0 972.1 L799.5 969.2 L801.0 965.7 L802.5 961.6 L804.0 957.2 L805.5 952.6 L807.0 947.8 L808.5 942.8 L810.0 937.5 L811.5 930.9 L813.0 922.5 L814.5 915.3 L816.0 907.8 L817.5 898.9 L819.0 888.2 L820.5 877.7 L822.0 867.6 L823.5 857.2 L825.0 846.6 L826.5 836.3 L828.0 827.4 L829.5 819.8 L831.0 813.5 L832.5 808.3 L834.0 803.9 L835.5 800.4 L837.0 798.2 L838.5 798.5 L840.0 800.8 L841.5 802.3 L843.0 803.2 L844.5 805.2 L846.0 808.5 L847.5 813.4 L849.0 819.7 L850.5 826.6 L852.0 834.6 L853.5 845.5 L855.0 856.9 L856.5 867.2 L858.0 874.9 L859.5 879.3 L861.0 881.5 L862.5 883.4 L864.0 885.3 L865.5 887.0 L867.0 888.7 L868.5 890.6 L870.0 892.7 L871.5 895.5 L873.0 899.2 L874.5 903.4 L876.0 907.7 L877.5 911.9 L879.0 916.1 L880.5 920.4 L882.0 924.6 L883.5 928.7 L885.0 932.7 L886.5 937.0 L888.0 943.2 L889.5 948.9 L891.0 952.1 L892.5 954.6 L894.0 956.7 L895.5 958.5 L897.0 959.9 L898.5 961.1 L900.0 962.1 L901.5 962.9 L903.0 963.7 L904.5 964.5 L906.0 965.3 L907.5 966.0 L909.0 966.6 L910.5 967.2 L912.0 967.6 L913.5 967.8 L915.0 967.8 L916.5 967.7 L918.0 967.5 L919.5 967.2 L921.0 966.8 L922.5 966.2 L924.0 965.6 L925.5 965.0 L927.0 964.3 L928.5 963.7 L930.0 963.0 L931.5 962.2 L933.0 961.5 L934.5 960.7 L936.0 959.8 L937.5 958.8 L939.0 957.8 L940.5 956.3 L942.0 953.5 L943.5 949.8 L945.0 945.7 L946.5 941.7 L948.0 938.4 L949.5 935.9 L951.0 933.7 L952.5 931.1 L954.0 927.8 L955.5 923.2 L957.0 917.9 L958.5 912.0 L960.0 905.5 L961.5 898.6 L963.0 891.3 L964.5 883.4 L966.0 874.8 L967.5 866.2 L969.0 857.4 L970.5 848.5 L972.0 839.6 L973.5 830.5 L975.0 821.3 L976.5 812.2 L978.0 803.4 L979.5 794.9 L981.0 788.9 L982.5 783.9 L984.0 777.9 L985.5 768.8 L987.0 756.6 L988.5 743.5 L990.0 730.3 L991.5 717.5 L993.0 705.0 L994.5 692.3 L996.0 679.3 L997.5 666.1 L999.0 653.4 L1000.5 642.4 L1002.0 631.8 L1003.5 620.0 L1005.0 597.7 L1006.5 585.8 L1008.0 578.3 L1009.5 567.9 L1011.0 548.1 L1012.5 520.7 L1014.0 495.4 L1015.5 472.2 L1017.0 449.8 L1018.5 430.0 L1020.0 412.5 L1021.5 396.1 L1023.0 380.0 L1024.5 364.9 L1026.0 350.5 L1027.5 335.0 L1029.0 312.6 L1030.5 287.6 L1032.0 270.1 L1033.5 253.7 L1035.0 237.2 L1036.5 221.0 L1038.0 214.4 L1039.5 217.1 L1041.0 223.0 L1042.5 230.2 L1044.0 238.6 L1045.5 250.0 L1047.0 266.7 L1048.5 286.8 L1050.0 308.5 L1051.5 332.4 L1053.0 359.5 L1054.5 390.3 L1056.0 420.8 L1057.5 447.6 L1059.0 473.7 L1060.5 500.0 L1062.0 526.7 L1063.5 553.8 L1065.0 580.7 L1066.5 606.8 L1068.0 630.0 L1069.5 650.0 L1071.0 667.7 L1072.5 683.8 L1074.0 699.0 L1075.5 713.8 L1077.0 728.1 L1078.5 741.7 L1080.0 754.4 L1081.5 766.2 L1083.0 777.6 L1084.5 789.0 L1086.0 800.9 L1087.5 812.7 L1089.0 822.1 L1090.5 829.9 L1092.0 837.1 L1093.5 843.5 L1095.0 849.1 L1096.5 854.1 L1098.0 858.5 L1099.5 862.3 L1101.0 865.0 L1102.5 868.7 L1104.0 873.8 L1105.5 879.4 L1107.0 883.7 L1108.5 887.2 L1110.0 890.4 L1111.5 893.2 L1113.0 895.8 L1114.5 898.0 L1116.0 899.8 L1117.5 901.7 L1119.0 903.4 L1120.5 905.2 L1122.0 906.8 L1123.5 908.4 L1125.0 909.8 L1126.5 911.2 L1128.0 912.5 L1129.5 913.7 L1131.0 914.6 L1132.5 915.4 L1134.0 915.9 L1135.5 916.2 L1137.0 916.3 L1138.5 916.2 L1140.0 916.1 L1141.5 915.9 L1143.0 915.8 L1144.5 915.5 L1146.0 915.2 L1147.5 914.8 L1149.0 914.1 L1150.5 913.2 L1152.0 912.3 L1153.5 911.3 L1155.0 910.4 L1156.5 909.4 L1158.0 908.5 L1159.5 907.6 L1161.0 906.6 L1162.5 905.8 L1164.0 905.1 L1165.5 904.3 L1167.0 903.4 L1168.5 902.3 L1170.0 901.0 L1171.5 899.2 L1173.0 897.0 L1174.5 894.5 L1176.0 892.0 L1177.5 889.7 L1179.0 887.4 L1180.5 885.2 L1182.0 882.9 L1183.5 880.7 L1185.0 878.4 L1186.5 876.2 L1188.0 874.1 L1189.5 872.4 L1191.0 871.1 L1192.5 870.1 L1194.0 869.2 L1195.5 868.2 L1197.0 867.3 L1198.5 866.6 L1200.0 866.4 L1201.5 866.6 L1203.0 867.1 L1204.5 867.8 L1206.0 868.6 L1207.5 869.6 L1209.0 870.6 L1210.5 871.3 L1212.0 871.5 L1213.5 871.2 L1215.0 870.7 L1216.5 870.3 L1218.0 870.2 L1219.5 870.8 L1221.0 872.1 L1222.5 873.9 L1224.0 876.0 L1225.5 878.3 L1227.0 880.8 L1228.5 883.2 L1230.0 885.7 L1231.5 888.0 L1233.0 890.3 L1234.5 892.4 L1236.0 894.4 L1237.5 896.3 L1239.0 898.0 L1240.5 899.3 L1242.0 900.1 L1243.5 900.5 L1245.0 900.6 L1246.5 900.6 L1248.0 900.7 L1249.5 900.7 L1251.0 900.7 L1252.5 900.7 L1254.0 900.7 L1255.5 900.8 L1257.0 900.9 L1258.5 901.1 L1260.0 901.3 L1261.5 901.6 L1263.0 901.9 L1264.5 902.1 L1266.0 902.1 L1267.5 902.0 L1269.0 901.6 L1270.5 900.9 L1272.0 900.0 L1273.5 898.9 L1275.0 897.8 L1276.5 896.7 L1278.0 895.6 L1279.5 894.6 L1281.0 893.6 L1282.5 892.5 L1284.0 891.5 L1285.5 890.4 L1287.0 889.4 L1288.5 888.3 L1290.0 887.1 L1291.5 885.8 L1293.0 884.5 L1294.5 883.2 L1296.0 881.9 L1297.5 880.8 L1299.0 881.5 L1300.5 883.2 L1302.0 883.8 L1303.5 882.2 L1305.0 880.3 L1306.5 878.3 L1308.0 876.5 L1309.5 874.0 L1311.0 871.8 L1312.5 871.3 L1314.0 872.1 L1315.5 873.4 L1317.0 875.2 L1318.5 877.4 L1320.0 879.1 L1321.5 880.2 L1323.0 880.8 L1324.5 880.6 L1326.0 879.5 L1327.5 877.7 L1329.0 875.5 L1330.5 873.2 L1332.0 870.7 L1333.5 868.0 L1335.0 865.1 L1336.5 861.9 L1338.0 858.6 L1339.5 855.0 L1341.0 851.2 L1342.5 847.2 L1344.0 842.9 L1345.5 838.5 L1347.0 833.8 L1348.5 828.5 L1350.0 822.4 L1351.5 816.0 L1353.0 809.4 L1354.5 802.5 L1356.0 795.4 L1357.5 788.0 L1359.0 779.8 L1360.5 770.7 L1362.0 760.5 L1363.5 749.6 L1365.0 738.5 L1366.5 727.4 L1368.0 716.2 L1369.5 704.6 L1371.0 692.4 L1372.5 680.0 L1374.0 667.6 L1375.5 655.2 L1377.0 643.1 L1378.5 631.4 L1380.0 619.6 L1381.5 607.7 L1383.0 593.9 L1384.5 577.4 L1386.0 560.0 L1387.5 543.2 L1389.0 527.9 L1390.5 512.8 L1392.0 497.6 L1393.5 482.1 L1395.0 464.8 L1396.5 444.1 L1398.0 422.4 L1399.5 403.8 L1401.0 391.2 L1402.5 380.8 L1404.0 370.4 L1405.5 360.7 L1407.0 351.1 L1408.5 342.8 L1410.0 336.1 L1411.5 330.5 L1413.0 325.4 L1414.5 320.5 L1416.0 316.4 L1417.5 313.6 L1419.0 312.3 L1420.5 312.8 L1422.0 314.9 L1423.5 318.4 L1425.0 323.3 L1426.5 328.9 L1428.0 334.5 L1429.5 340.6 L1431.0 348.2 L1432.5 357.5 L1434.0 367.4 L1435.5 377.3 L1437.0 386.6 L1438.5 395.6 L1440.0 406.0 L1441.5 421.6 L1443.0 441.5 L1444.5 461.7 L1446.0 479.0 L1447.5 493.7 L1449.0 507.5 L1450.5 520.4 L1452.0 531.7 L1453.5 542.0 L1455.0 553.3 L1456.5 566.1 L1458.0 579.4 L1459.5 592.8 L1461.0 606.3 L1462.5 619.7 L1464.0 633.0 L1465.5 646.1 L1467.0 659.4 L1468.5 672.6 L1470.0 685.8 L1471.5 698.5 L1473.0 710.7 L1474.5 722.3 L1476.0 733.1 L1477.5 743.3 L1479.0 753.2 L1480.5 762.7 L1482.0 771.8 L1483.5 780.9 L1485.0 789.9 L1486.5 798.6 L1488.0 807.2 L1489.5 815.3 L1491.0 822.8 L1492.5 829.7 L1494.0 836.0 L1495.5 841.7 L1497.0 846.9 L1498.5 852.0 L1500.0 857.2 L1501.5 862.5 L1503.0 867.9 L1504.5 873.6 L1506.0 879.3 L1507.5 885.2 L1509.0 891.1 L1510.5 897.1 L1512.0 902.9 L1513.5 908.6 L1515.0 913.7 L1516.5 918.3 L1518.0 922.3 L1519.5 925.8 L1521.0 928.8 L1522.5 931.3 L1524.0 933.4 L1525.5 935.2 L1527.0 937.1 L1528.5 939.1 L1530.0 941.4 L1531.5 944.3 L1533.0 947.6 L1534.5 951.0 L1536.0 954.3 L1537.5 957.0 L1539.0 958.7 L1540.5 959.4 L1542.0 959.4 L1543.5 959.1 L1545.0 959.0 L1546.5 959.4 L1548.0 960.8 L1549.5 963.3 L1551.0 966.5 L1552.5 969.7 L1554.0 972.2 L1555.5 973.5 L1557.0 974.2 L1558.5 974.9 L1560.0 975.6 L1561.5 976.3 L1563.0 976.9 L1564.5 977.6 L1566.0 978.3 L1567.5 978.9 L1569.0 979.5 L1570.5 980.2 L1572.0 980.8 L1573.5 980.9 L1575.0 978.8 L1576.5 975.3 L1578.0 972.2 L1579.5 970.8 L1581.0 972.8 L1582.5 977.4 L1584.0 982.9 L1585.5 987.2 L1587.0 988.7 L1588.5 988.6 L1590.0 988.1 L1591.5 987.8 L1593.0 988.6 L1594.5 990.0 L1596.0 991.5 L1597.5 993.1 L1599.0 994.7 L1600.5 996.1 L1602.0 997.3 L1603.5 998.3 L1605.0 999.1 L1606.5 999.9 L1608.0 1000.5 L1609.5 1000.3 L1611.0 999.2 L1612.5 997.6 L1614.0 996.0 L1615.5 994.8 L1617.0 994.4 L1618.5 995.6 L1620.0 998.2 L1621.5 1001.5 L1623.0 1004.6 L1624.5 1006.8 L1626.0 1007.4 L1627.5 1007.1 L1629.0 1006.1 L1630.5 1004.8 L1632.0 1003.5 L1633.5 1002.6 L1635.0 1002.5 L1636.5 1003.4 L1638.0 1004.9 L1639.5 1006.9 L1641.0 1008.9 L1642.5 1010.6 L1644.0 1011.8 L1645.5 1012.1 L1647.0 1011.5 L1648.5 1010.4 L1650.0 1009.0 L1651.5 1007.4 L1653.0 1005.8 L1654.5 1004.3 L1656.0 1003.2 L1657.5 1002.6 L1659.0 1002.4 L1660.5 1002.5 L1662.0 1003.0"/>
<path class="c" stroke="#ff0080" d="M358.5 1011.5 L360.0 1011.5 L361.5 1011.6 L363.0 1011.6 L364.5 1011.6 L366.0 1011.7 L367.5 1011.7 L369.0 1011.8 L370.5 1011.8 L372.0 1011.9 L373.5 1011.9 L375.0 1012.0 L376.5 1012.1 L378.0 1012.2 L379.5 1012.2 L381.0 1012.3 L382.5 1012.4 L384.0 1012.5 L385.5 1012.7 L387.0 1012.8 L388.5 1012.9 L390.0 1013.0 L391.5 1013.1 L393.0 1013.3 L394.5 1013.4 L396.0 1013.6 L397.5 1013.8 L399.0 1014.0 L400.5 1014.2 L402.0 1014.4 L403.5 1014.6 L405.0 1014.8 L406.5 1015.0 L408.0 1015.2 L409.5 1015.4 L411.0 1015.6 L412.5 1015.8 L414.0 1015.9 L415.5 1016.0 L417.0 1016.1 L418.5 1016.1 L420.0 1016.0 L421.5 1015.9 L423.0 1015.8 L424.5 1015.6 L426.0 1015.4 L427.5 1015.2 L429.0 1015.0 L430.5 1014.8 L432.0 1014.6 L433.5 1014.5 L435.0 1014.4 L436.5 1014.4 L438.0 1014.4 L439.5 1014.6 L441.0 1014.9 L442.5 1015.2 L444.0 1015.6 L445.5 1016.0 L447.0 1016.5 L448.5 1017.0 L450.0 1017.4 L451.5 1017.9 L453.0 1018.3 L454.5 1018.7 L456.0 1019.0 L457.5 1019.3 L459.0 1019.4 L460.5 1019.4 L462.0 1019.3 L463.5 1019.1 L465.0 1018.9 L466.5 1018.7 L468.0 1018.4 L469.5 1018.1 L471.0 1017.8 L472.5 1017.5 L474.0 1017.2 L475.5 1016.9 L477.0 1016.6 L478.5 1016.2 L480.0 1015.8 L481.5 1015.5 L483.0 1015.1 L484.5 1014.7 L486.0 1014.4 L487.5 1014.1 L489.0 1013.8 L490.5 1013.5 L492.0 1013.3 L493.5 1013.1 L495.0 1013.0 L496.5 1012.8 L498.0 1012.7 L499.5 1012.6 L501.0 1012.5 L502.5 1012.5 L504.0 1012.4 L505.5 1012.4 L507.0 1012.4 L508.5 1012.3 L510.0 1012.3 L511.5 1012.3 L513.0 1012.3 L514.5 1012.3 L516.0 1012.2 L517.5 1012.2 L519.0 1012.2 L520.5 1012.2 L522.0 1012.2 L523.5 1012.2 L525.0 1012.2 L526.5 1012.1 L528.0 1012.1 L529.5 1012.1 L531.0 1012.1 L532.5 1012.1 L534.0 1012.0 L535.5 1012.0 L537.0 1012.0 L538.5 1011.9 L540.0 1011.9 L541.5 1011.9 L543.0 1011.8 L544.5 1011.8 L546.0 1011.7 L547.5 1011.7 L549.0 1011.6 L550.5 1011.6 L552.0 1011.5 L553.5 1011.4 L555.0 1011.4 L556.5 1011.3 L558.0 1011.3 L559.5 1011.2 L561.0 1011.2 L562.5 1011.1 L564.0 1011.0 L565.5 1011.0 L567.0 1010.9 L568.5 1010.8 L570.0 1010.7 L571.5 1010.6 L573.0 1010.5 L574.5 1010.4 L576.0 1010.3 L577.5 1010.2 L579.0 1010.1 L580.5 1010.0 L582.0 1009.9 L583.5 1009.8 L585.0 1009.7 L586.5 1009.6 L588.0 1009.5 L589.5 1009.4 L591.0 1009.4 L592.5 1009.4 L594.0 1009.5 L595.5 1009.7 L597.0 1009.8 L598.5 1009.9 L600.0 1010.0 L601.5 1010.0 L603.0 1010.0 L604.5 1010.0 L606.0 1009.9 L607.5 1009.8 L609.0 1009.7 L610.5 1009.5 L612.0 1009.3 L613.5 1009.1 L615.0 1008.8 L616.5 1008.4 L618.0 1008.0 L619.5 1007.5 L621.0 1006.9 L622.5 1006.3 L624.0 1005.7 L625.5 1005.0 L627.0 1004.3 L628.5 1003.6 L630.0 1002.9 L631.5 1002.2 L633.0 1001.5 L634.5 1000.8 L636.0 1000.1 L637.5 999.5 L639.0 999.0 L640.5 998.4 L642.0 997.8 L643.5 997.3 L645.0 996.7 L646.5 996.2 L648.0 995.7 L649.5 995.1 L651.0 994.6 L652.5 994.0 L654.0 993.5 L655.5 993.0 L657.0 992.5 L658.5 992.0 L660.0 991.6 L661.5 991.2 L663.0 990.8 L664.5 990.4 L666.0 990.0 L667.5 989.6 L669.0 989.5 L670.5 989.8 L672.0 990.3 L673.5 990.8 L675.0 991.0 L676.5 990.7 L678.0 989.9 L679.5 989.2 L681.0 988.9 L682.5 989.3 L684.0 990.1 L685.5 991.2 L687.0 992.3 L688.5 993.3 L690.0 993.9 L691.5 994.3 L693.0 994.7 L694.5 995.0 L696.0 995.3 L697.5 995.6 L699.0 995.8 L700.5 995.9 L702.0 995.9 L703.5 995.8 L705.0 995.5 L706.5 995.2 L708.0 994.8 L709.5 994.4 L711.0 994.1 L712.5 993.7 L714.0 993.3 L715.5 993.0 L717.0 992.6 L718.5 992.2 L720.0 991.9 L721.5 991.5 L723.0 991.1 L724.5 990.8 L726.0 990.4 L727.5 990.0 L729.0 989.9 L730.5 990.2 L732.0 990.8 L733.5 991.6 L735.0 992.4 L736.5 993.3 L738.0 993.9 L739.5 994.4 L741.0 994.8 L742.5 995.2 L744.0 995.6 L745.5 996.0 L747.0 996.3 L748.5 996.7 L750.0 996.9 L751.5 997.0 L753.0 996.7 L754.5 996.2 L756.0 995.6 L757.5 995.0 L759.0 994.8 L760.5 995.1 L762.0 996.0 L763.5 997.1 L765.0 998.1 L766.5 998.4 L768.0 998.2 L769.5 997.9 L771.0 997.5 L772.5 997.1 L774.0 996.6 L775.5 996.1 L777.0 995.5 L778.5 994.9 L780.0 994.3 L781.5 993.6 L783.0 993.0 L784.5 992.3 L786.0 991.7 L787.5 991.0 L789.0 990.4 L790.5 989.8 L792.0 989.5 L793.5 989.1 L795.0 988.5 L796.5 987.4 L798.0 986.0 L799.5 984.3 L801.0 982.4 L802.5 980.4 L804.0 978.1 L805.5 975.6 L807.0 972.9 L808.5 970.0 L810.0 966.9 L811.5 963.6 L813.0 960.3 L814.5 956.9 L816.0 953.5 L817.5 949.9 L819.0 946.1 L820.5 941.8 L822.0 936.7 L823.5 930.5 L825.0 923.6 L826.5 917.0 L828.0 911.3 L829.5 905.9 L831.0 900.7 L832.5 895.7 L834.0 890.8 L835.5 886.2 L837.0 881.9 L838.5 878.2 L840.0 875.0 L841.5 872.4 L843.0 870.4 L844.5 869.4 L846.0 869.3 L847.5 870.3 L849.0 871.9 L850.5 873.6 L852.0 875.3 L853.5 877.2 L855.0 879.1 L856.5 881.3 L858.0 883.0 L859.5 884.5 L861.0 885.8 L862.5 887.1 L864.0 888.5 L865.5 889.8 L867.0 891.3 L868.5 893.0 L870.0 895.1 L871.5 898.0 L873.0 901.9 L874.5 906.3 L876.0 910.8 L877.5 915.2 L879.0 919.7 L880.5 924.2 L882.0 928.6 L883.5 933.0 L885.0 937.2 L886.5 941.7 L888.0 948.2 L889.5 954.0 L891.0 957.3 L892.5 959.9 L894.0 962.1 L895.5 963.8 L897.0 965.2 L898.5 966.4 L900.0 967.4 L901.5 968.2 L903.0 969.0 L904.5 969.8 L906.0 970.6 L907.5 971.4 L909.0 972.1 L910.5 972.7 L912.0 973.2 L913.5 973.5 L915.0 973.6 L916.5 973.6 L918.0 973.5 L919.5 973.4 L921.0 973.2 L922.5 973.0 L924.0 972.8 L925.5 972.6 L927.0 972.3 L928.5 972.1 L930.0 971.8 L931.5 971.5 L933.0 971.2 L934.5 970.7 L936.0 970.2 L937.5 969.7 L939.0 969.0 L940.5 968.1 L942.0 966.0 L943.5 963.1 L945.0 959.9 L946.5 957.1 L948.0 955.2 L949.5 954.4 L951.0 954.0 L952.5 953.4 L954.0 952.1 L955.5 949.5 L957.0 946.1 L958.5 942.2 L960.0 937.7 L961.5 932.8 L963.0 927.5 L964.5 921.8 L966.0 915.9 L967.5 910.0 L969.0 904.0 L970.5 897.9 L972.0 891.6 L973.5 885.2 L975.0 878.7 L976.5 872.0 L978.0 865.2 L979.5 858.4 L981.0 851.5 L982.5 844.6 L984.0 837.7 L985.5 830.4 L987.0 822.7 L988.5 813.9 L990.0 803.1 L991.5 790.8 L993.0 777.6 L994.5 764.3 L996.0 751.3 L997.5 737.5 L999.0 722.2 L1000.5 701.3 L1002.0 683.6 L1003.5 668.1 L1005.0 653.1 L1006.5 637.1 L1008.0 618.6 L1009.5 594.8 L1011.0 574.2 L1012.5 556.0 L1014.0 529.9 L1015.5 500.0 L1017.0 475.8 L1018.5 445.5 L1020.0 414.9 L1021.5 384.9 L1023.0 355.0 L1024.5 326.3 L1026.0 301.9 L1027.5 278.2 L1029.0 251.3 L1030.5 226.3 L1032.0 205.6 L1033.5 181.7 L1035.0 163.6 L1036.5 156.1 L1038.0 149.4 L1039.5 144.7 L1041.0 143.3 L1042.5 148.8 L1044.0 161.1 L1045.5 176.8 L1047.0 195.0 L1048.5 213.5 L1050.0 233.9 L1051.5 262.5 L1053.0 289.7 L1054.5 312.3 L1056.0 340.1 L1057.5 371.1 L1059.0 402.8 L1060.5 434.8 L1062.0 467.0 L1063.5 498.8 L1065.0 529.5 L1066.5 558.4 L1068.0 582.4 L1069.5 601.1 L1071.0 617.8 L1072.5 634.4 L1074.0 651.3 L1075.5 668.3 L1077.0 685.3 L1078.5 702.3 L1080.0 718.9 L1081.5 733.1 L1083.0 744.4 L1084.5 754.5 L1086.0 764.9 L1087.5 775.5 L1089.0 786.0 L1090.5 795.9 L1092.0 805.2 L1093.5 813.6 L1095.0 821.0 L1096.5 827.7 L1098.0 833.6 L1099.5 838.9 L1101.0 843.7 L1102.5 848.4 L1104.0 853.1 L1105.5 857.8 L1107.0 862.4 L1108.5 867.0 L1110.0 871.6 L1111.5 875.9 L1113.0 879.8 L1114.5 883.0 L1116.0 885.5 L1117.5 887.7 L1119.0 889.7 L1120.5 891.8 L1122.0 894.0 L1123.5 896.2 L1125.0 898.2 L1126.5 900.1 L1128.0 901.6 L1129.5 903.0 L1131.0 904.3 L1132.5 905.6 L1134.0 906.8 L1135.5 908.0 L1137.0 909.2 L1138.5 910.3 L1140.0 911.4 L1141.5 912.5 L1143.0 913.6 L1144.5 914.7 L1146.0 915.7 L1147.5 916.8 L1149.0 917.8 L1150.5 918.7 L1152.0 919.7 L1153.5 920.5 L1155.0 921.2 L1156.5 921.7 L1158.0 922.0 L1159.5 922.2 L1161.0 922.3 L1162.5 922.3 L1164.0 922.1 L1165.5 921.8 L1167.0 921.3 L1168.5 920.7 L1170.0 919.8 L1171.5 918.9 L1173.0 917.8 L1174.5 916.7 L1176.0 915.6 L1177.5 914.5 L1179.0 913.3 L1180.5 912.2 L1182.0 911.1 L1183.5 910.0 L1185.0 908.9 L1186.5 907.9 L1188.0 906.9 L1189.5 906.0 L1191.0 905.1 L1192.5 904.2 L1194.0 903.3 L1195.5 902.4 L1197.0 901.6 L1198.5 900.7 L1200.0 899.9 L1201.5 899.1 L1203.0 898.3 L1204.5 897.7 L1206.0 897.3 L1207.5 896.9 L1209.0 896.4 L1210.5 895.8 L1212.0 894.5 L1213.5 892.8 L1215.0 890.9 L1216.5 889.2 L1218.0 887.9 L1219.5 887.4 L1221.0 887.9 L1222.5 889.2 L1224.0 891.1 L1225.5 893.1 L1227.0 895.3 L1228.5 897.6 L1230.0 899.7 L1231.5 901.5 L1233.0 903.0 L1234.5 904.3 L1236.0 905.4 L1237.5 906.3 L1239.0 907.0 L1240.5 907.5 L1242.0 907.8 L1243.5 907.9 L1245.0 907.9 L1246.5 908.0 L1248.0 908.2 L1249.5 908.5 L1251.0 909.1 L1252.5 909.8 L1254.0 910.6 L1255.5 911.5 L1257.0 912.3 L1258.5 913.2 L1260.0 913.9 L1261.5 914.5 L1263.0 915.0 L1264.5 915.3 L1266.0 915.5 L1267.5 915.6 L1269.0 915.6 L1270.5 915.6 L1272.0 915.4 L1273.5 915.3 L1275.0 915.1 L1276.5 914.7 L1278.0 914.2 L1279.5 913.4 L1281.0 912.3 L1282.5 910.9 L1284.0 909.5 L1285.5 908.1 L1287.0 906.5 L1288.5 905.0 L1290.0 903.4 L1291.5 901.9 L1293.0 900.3 L1294.5 898.8 L1296.0 897.2 L1297.5 895.6 L1299.0 893.9 L1300.5 892.3 L1302.0 890.6 L1303.5 888.9 L1305.0 887.1 L1306.5 884.0 L1308.0 879.6 L1309.5 875.3 L1311.0 872.4 L1312.5 871.2 L1314.0 870.8 L1315.5 871.0 L1317.0 871.7 L1318.5 872.9 L1320.0 873.7 L1321.5 873.8 L1323.0 873.4 L1324.5 872.2 L1326.0 870.2 L1327.5 867.3 L1329.0 864.1 L1330.5 860.8 L1332.0 857.3 L1333.5 853.7 L1335.0 850.0 L1336.5 846.2 L1338.0 842.5 L1339.5 838.7 L1341.0 834.8 L1342.5 830.7 L1344.0 826.5 L1345.5 822.0 L1347.0 817.3 L1348.5 811.6 L1350.0 805.0 L1351.5 797.5 L1353.0 789.4 L1354.5 780.6 L1356.0 771.3 L1357.5 761.6 L1359.0 751.4 L1360.5 740.6 L1362.0 729.1 L1363.5 716.6 L1365.0 703.8 L1366.5 690.9 L1368.0 678.0 L1369.5 665.1 L1371.0 652.1 L1372.5 639.1 L1374.0 626.2 L1375.5 613.3 L1377.0 600.3 L1378.5 587.1 L1380.0 573.7 L1381.5 560.0 L1383.0 544.0 L1384.5 524.9 L1386.0 504.9 L1387.5 485.8 L1389.0 468.8 L1390.5 452.1 L1392.0 435.6 L1393.5 419.0 L1395.0 402.2 L1396.5 384.8 L1398.0 367.0 L1399.5 350.3 L1401.0 336.4 L1402.5 324.1 L1404.0 311.7 L1405.5 299.7 L1407.0 288.6 L1408.5 279.5 L1410.0 272.2 L1411.5 266.1 L1413.0 260.8 L1414.5 256.5 L1416.0 253.7 L1417.5 252.1 L1419.0 251.5 L1420.5 251.8 L1422.0 253.2 L1423.5 256.1 L1425.0 260.7 L1426.5 266.7 L1428.0 273.2 L1429.5 280.6 L1431.0 289.4 L1432.5 299.4 L1434.0 309.8 L1435.5 320.0 L1437.0 329.7 L1438.5 339.2 L1440.0 349.0 L1441.5 360.0 L1443.0 373.8 L1444.5 389.3 L1446.0 405.5 L1447.5 423.2 L1449.0 441.7 L1450.5 459.7 L1452.0 476.1 L1453.5 490.5 L1455.0 504.8 L1456.5 519.0 L1458.0 533.3 L1459.5 547.6 L1461.0 561.9 L1462.5 576.2 L1464.0 590.5 L1465.5 604.8 L1467.0 619.0 L1468.5 633.3 L1470.0 647.6 L1471.5 661.4 L1473.0 674.7 L1474.5 687.6 L1476.0 700.1 L1477.5 712.2 L1479.0 723.8 L1480.5 734.7 L1482.0 744.9 L1483.5 754.4 L1485.0 763.5 L1486.5 772.3 L1488.0 781.1 L1489.5 789.7 L1491.0 798.1 L1492.5 806.1 L1494.0 813.6 L1495.5 820.3 L1497.0 826.7 L1498.5 833.0 L1500.0 839.3 L1501.5 845.5 L1503.0 851.8 L1504.5 858.0 L1506.0 864.3 L1507.5 870.6 L1509.0 877.0 L1510.5 883.5 L1512.0 889.9 L1513.5 896.1 L1515.0 901.7 L1516.5 906.6 L1518.0 911.0 L1519.5 914.8 L1521.0 918.1 L1522.5 920.8 L1524.0 923.0 L1525.5 925.1 L1527.0 927.1 L1528.5 929.3 L1530.0 931.9 L1531.5 935.1 L1533.0 938.8 L1534.5 942.7 L1536.0 946.4 L1537.5 949.5 L1539.0 951.4 L1540.5 952.2 L1542.0 952.3 L1543.5 952.1 L1545.0 951.9 L1546.5 952.4 L1548.0 953.9 L1549.5 956.6 L1551.0 960.0 L1552.5 963.4 L1554.0 966.0 L1555.5 967.4 L1557.0 968.1 L1558.5 968.9 L1560.0 969.6 L1561.5 970.4 L1563.0 971.1 L1564.5 971.8 L1566.0 972.6 L1567.5 973.4 L1569.0 974.1 L1570.5 974.9 L1572.0 975.6 L1573.5 975.9 L1575.0 973.8 L1576.5 970.3 L1578.0 967.2 L1579.5 966.0 L1581.0 968.2 L1582.5 973.2 L1584.0 979.0 L1585.5 983.5 L1587.0 984.9 L1588.5 984.8 L1590.0 984.3 L1591.5 984.1 L1593.0 985.1 L1594.5 986.5 L1596.0 988.1 L1597.5 989.7 L1599.0 991.2 L1600.5 992.5 L1602.0 993.7 L1603.5 994.8 L1605.0 995.8 L1606.5 996.6 L1608.0 997.3 L1609.5 997.1 L1611.0 995.9 L1612.5 994.2 L1614.0 992.6 L1615.5 991.3 L1617.0 991.0 L1618.5 992.3 L1620.0 995.1 L1621.5 998.7 L1623.0 1002.0 L1624.5 1004.3 L1626.0 1004.8 L1627.5 1004.3 L1629.0 1003.2 L1630.5 1001.9 L1632.0 1000.6 L1633.5 999.8 L1635.0 999.7 L1636.5 1000.6 L1638.0 1002.3 L1639.5 1004.3 L1641.0 1006.4 L1642.5 1008.3 L1644.0 1009.5 L1645.5 1009.6 L1647.0 1009.0 L1648.5 1007.9 L1650.0 1006.3 L1651.5 1004.6 L1653.0 1003.0 L1654.5 1001.5 L1656.0 1000.3 L1657.5 999.7 L1659.0 999.6 L1660.5 999.8 L1662.0 1000.4"/></g>
<g class="ax" stroke-width="7">
<path d="M358.5 84 V1064.5"/>
</g><g class="ax" stroke-width="6">
<path d="M358.5 1046 H1661.5"/>
<path d="M339 1024.0 H358"/>
<path d="M349 843.0 H358"/>
<path d="M339 662.0 H358"/>
<path d="M349 481.0 H358"/>
<path d="M339 300.0 H358"/>
<path d="M349 119.0 H358"/>
<path d="M544.7 1046 V1055"/>
<path d="M731.0 1046 V1064"/>
<path d="M917.2 1046 V1055"/>
<path d="M1103.4 1046 V1064"/>
<path d="M1289.6 1046 V1055"/>
<path d="M1475.8 1046 V1064"/>
<path d="M1662.1 1046 V1055"/>
</g>
<text transform="translate(325.5 1046.0) scale(1 1.042)" font-size="76.4" text-anchor="end">0.00</text>
<text transform="translate(325.5 684.0) scale(1 1.042)" font-size="76.4" text-anchor="end">0.05</text>
<text transform="translate(325.5 322.0) scale(1 1.042)" font-size="76.4" text-anchor="end">0.10</text>
<text transform="translate(0 1138.5) scale(1 1.05)" x="292.8 340.7 380.1 423.8" font-size="75.8" text-anchor="middle">2100</text>
<text transform="translate(0 1138.5) scale(1 1.05)" x="665.6 710.9 751.8 796.0" font-size="75.8" text-anchor="middle">2000</text>
<text transform="translate(0 1138.5) scale(1 1.05)" x="1042.3 1081.5 1124.0 1166.9" font-size="75.8" text-anchor="middle">1900</text>
<text transform="translate(0 1138.5) scale(1 1.05)" x="1413.5 1454.2 1496.4 1539.6" font-size="75.8" text-anchor="middle">1800</text>
<text transform="translate(97.2 554.8) rotate(-90) scale(1.034 1)" font-size="75.4" text-anchor="middle">Absorbance</text>
<text transform="translate(888.3 1241.3) scale(0.985 0.94)" font-size="78" style="font-family:'Liberation Serif',serif">ν</text>
<text transform="translate(945.5 1241.3) scale(1 0.986)" font-size="78">/ cm<tspan font-size="45" dx="-1.5" dy="-42.5">-</tspan><tspan font-size="45" dx="4">1</tspan></text>
<path d="M828.5 145 V191.3" stroke="#000" stroke-width="5.8" stroke-linecap="round" fill="none"/><path d="M821.9 190.3 L835.1 190.3 L829.1 215.10000000000002 L827.9 215.10000000000002 Z" fill="#000" stroke="#000" stroke-width="4" stroke-linejoin="round"/>
<path d="M986.3 121.5 V168.8" stroke="#000" stroke-width="5.8" stroke-linecap="round" fill="none"/><path d="M979.6999999999999 167.8 L992.9 167.8 L986.9 192.60000000000002 L985.6999999999999 192.60000000000002 Z" fill="#000" stroke="#000" stroke-width="4" stroke-linejoin="round"/>
<path d="M1039.7 116.5 V70.2" stroke="#000" stroke-width="5.8" stroke-linecap="round" fill="none"/><path d="M1033.1000000000001 71.2 L1046.3 71.2 L1040.3 46.400000000000006 L1039.1000000000001 46.400000000000006 Z" fill="#000" stroke="#000" stroke-width="4" stroke-linejoin="round"/>
<path d="M1187.9 532 V578.9" stroke="#000" stroke-width="5.8" stroke-linecap="round" fill="none"/><path d="M1181.3000000000002 577.9 L1194.5 577.9 L1188.5 602.6999999999999 L1187.3000000000002 602.6999999999999 Z" fill="#000" stroke="#000" stroke-width="4" stroke-linejoin="round"/>
<path d="M1273.4 642 V690" stroke="#000" stroke-width="5.8" stroke-linecap="round" fill="none"/><path d="M1266.8000000000002 689 L1280.0 689 L1274.0 713.8 L1272.8000000000002 713.8 Z" fill="#000" stroke="#000" stroke-width="4" stroke-linejoin="round"/>
<path d="M1418.2 214 V167.2" stroke="#000" stroke-width="5.8" stroke-linecap="round" fill="none"/><path d="M1411.6000000000001 168.2 L1424.8 168.2 L1418.8 143.39999999999998 L1417.6000000000001 143.39999999999998 Z" fill="#000" stroke="#000" stroke-width="4" stroke-linejoin="round"/>
<!--ARROWS2-->
</svg></body></html>
